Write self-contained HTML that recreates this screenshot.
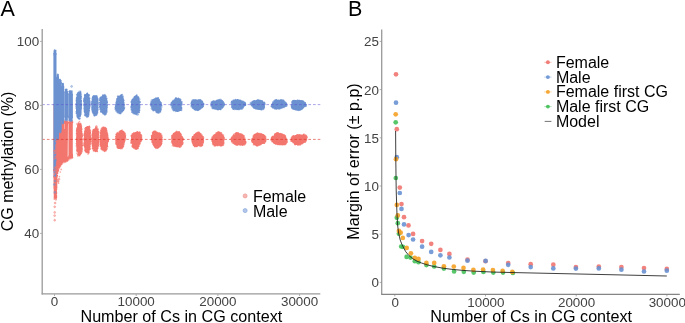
<!DOCTYPE html>
<html><head><meta charset="utf-8"><title>Figure</title>
<style>html,body{margin:0;padding:0;background:#fff;}body{width:685px;height:323px;overflow:hidden;font-family:"Liberation Sans",sans-serif;}svg{display:block;will-change:transform;}</style></head>
<body>
<svg width="685" height="323" viewBox="0 0 685 323" font-family="'Liberation Sans', sans-serif">
<rect width="685" height="323" fill="#fff"/>
<g fill="none" stroke-linecap="round" stroke-width="1.70">
<path d="M53.5,103.8h3.8V188.5h-3.8ZM57.0,122.3H64.25V129H64.6V122.3H68.0L67.7,158.6L66.0,159.2L64.4,159.8L62.3,160.9L60.5,163.2L59.0,166.2L58.0,169.5L57.0,175.0ZM68.45,122.3H72.8L72.8,155.2L71.6,155.6L70.0,156.4L68.2,157.6L68.45,157.4ZM82.2,139.4L82.2,142.5L82.1,145.9L81.8,149.0L81.3,151.1L80.6,152.2L80.0,152.9L79.3,153.6L78.6,154.1L77.9,153.5L77.3,151.5L76.9,148.5L76.6,145.4L76.5,142.4L76.5,139.4L76.5,136.3L76.6,133.1L76.9,129.8L77.2,126.6L77.8,124.3L78.6,123.5L79.3,124.1L80.0,125.1L80.6,126.2L81.2,127.5L81.7,129.8L82.0,132.9L82.1,136.2ZM90.5,139.4L90.4,142.2L90.1,144.9L89.8,147.4L89.3,149.6L88.7,151.2L88.0,151.9L87.3,151.7L86.6,151.1L86.0,150.4L85.3,149.5L84.7,147.8L84.3,145.3L84.1,142.3L84.1,139.4L84.1,136.6L84.3,133.7L84.6,131.2L85.3,129.6L86.0,129.1L86.7,129.0L87.3,128.5L88.0,127.8L88.7,127.7L89.5,128.9L90.0,131.1L90.3,133.8L90.4,136.6ZM98.7,139.4L98.6,141.8L98.4,144.1L98.1,146.5L97.7,148.7L97.0,149.9L96.2,150.1L95.5,149.7L94.8,149.5L94.1,149.4L93.3,148.7L92.7,147.0L92.4,144.5L92.2,141.9L92.2,139.4L92.2,136.8L92.4,134.2L92.9,132.1L93.5,130.9L94.2,130.1L94.8,129.4L95.5,128.6L96.2,128.2L97.0,128.6L97.7,129.8L98.3,131.7L98.7,134.1L98.8,136.8ZM107.9,139.4L108.0,141.7L107.7,143.9L107.3,146.0L106.7,147.8L105.9,149.0L105.0,149.4L104.1,149.3L103.2,149.1L102.4,148.7L101.5,147.9L100.8,146.3L100.5,143.9L100.5,141.5L100.6,139.4L100.6,137.3L100.6,135.0L100.8,132.6L101.4,130.6L102.3,129.5L103.2,129.1L104.1,128.9L105.0,129.0L105.9,129.9L106.5,131.4L107.0,133.3L107.4,135.3L107.7,137.2ZM125.0,139.4L124.4,141.0L123.9,142.3L123.5,143.6L123.1,145.3L122.5,146.7L121.5,147.4L120.5,147.4L119.5,147.3L118.5,147.0L117.5,146.2L116.8,144.7L116.5,142.8L116.4,141.1L116.3,139.4L116.1,137.6L116.3,135.8L116.9,134.4L117.9,133.7L118.8,133.3L119.6,132.7L120.5,132.0L121.5,131.6L122.6,131.9L123.5,132.8L124.3,134.1L125.0,135.6L125.2,137.5ZM141.1,139.4L140.7,141.1L140.0,142.4L139.4,143.5L138.9,144.9L138.2,146.4L137.3,147.5L136.2,147.8L135.1,147.4L134.0,146.8L133.0,146.0L132.2,144.7L131.7,143.0L131.6,141.1L131.7,139.4L131.7,137.9L131.8,136.3L132.3,134.9L133.2,134.0L134.3,133.7L135.3,133.6L136.2,133.2L137.3,132.7L138.5,132.6L139.5,133.4L140.3,134.7L140.9,136.2L141.2,137.8ZM161.6,139.4L161.7,141.0L161.6,142.7L160.9,144.1L160.0,145.1L159.0,145.9L158.0,146.7L156.8,147.2L155.6,147.1L154.6,146.1L153.9,144.6L153.4,143.3L152.8,142.1L152.2,140.9L151.9,139.4L151.9,137.9L152.0,136.3L152.4,134.6L153.2,133.1L154.3,132.3L155.6,132.4L156.8,133.1L157.8,133.6L158.8,133.8L159.9,134.1L160.8,135.0L161.4,136.4L161.5,137.9ZM182.6,139.4L182.6,140.9L182.3,142.4L181.8,143.8L181.0,145.2L179.9,146.0L178.6,146.2L177.3,145.9L176.2,145.6L174.9,145.4L173.7,145.0L172.7,143.9L172.3,142.3L172.4,140.8L172.5,139.4L172.5,138.1L172.5,136.7L172.9,135.4L173.8,134.3L174.8,133.5L176.0,132.7L177.3,132.3L178.7,132.5L179.8,133.5L180.5,134.8L181.0,136.0L181.6,137.0L182.2,138.1ZM202.8,139.4L202.7,140.7L202.6,142.1L202.3,143.6L201.5,144.8L200.2,145.4L198.9,145.4L197.7,145.4L196.5,145.6L195.1,145.7L193.8,145.0L193.0,143.7L192.7,142.2L192.7,140.7L192.6,139.4L192.7,138.3L193.1,137.2L193.7,136.2L194.4,135.2L195.2,134.2L196.3,133.3L197.7,132.9L199.1,133.3L200.2,134.2L201.1,135.2L201.8,136.1L202.5,137.1L202.8,138.2ZM223.3,139.4L223.2,140.6L223.2,141.8L223.1,143.3L222.3,144.6L221.0,145.2L219.5,145.2L218.2,145.1L216.9,145.1L215.5,145.0L214.2,144.4L213.3,143.3L212.9,142.0L212.6,140.7L212.5,139.4L212.6,138.2L213.2,137.0L214.1,136.2L214.9,135.3L215.7,134.4L216.8,133.4L218.2,132.8L219.7,133.0L221.0,133.7L222.0,134.7L222.8,135.8L223.4,137.0L223.5,138.2ZM244.3,139.4L244.7,140.7L244.9,142.2L244.3,143.6L242.9,144.4L241.2,144.6L239.8,144.5L238.5,144.4L237.2,144.4L236.0,144.2L234.9,143.5L233.9,142.7L233.0,141.8L232.2,140.7L231.9,139.4L232.2,138.1L233.0,137.0L233.8,136.0L234.6,135.0L235.6,134.0L237.0,133.5L238.5,133.6L239.8,134.1L241.0,134.7L242.1,135.3L243.1,136.1L243.7,137.1L244.0,138.3ZM264.8,139.4L264.9,140.5L264.6,141.7L263.8,142.6L262.5,143.2L261.2,143.6L260.0,144.1L258.7,144.7L257.1,145.0L255.4,144.8L254.2,143.9L253.3,142.8L252.8,141.7L252.6,140.5L252.7,139.4L253.2,138.4L253.7,137.4L254.1,136.4L254.6,135.2L255.6,134.2L257.1,133.7L258.7,133.9L260.1,134.3L261.5,134.7L262.9,135.2L264.0,136.0L264.6,137.1L264.8,138.3ZM285.6,139.4L286.0,140.5L286.2,141.9L285.6,143.2L284.2,144.0L282.4,144.2L280.7,144.0L279.3,144.0L277.9,143.9L276.6,143.7L275.4,143.1L274.3,142.4L273.3,141.6L272.3,140.6L271.9,139.4L272.2,138.1L273.1,137.0L274.1,136.0L275.1,135.1L276.2,134.2L277.7,133.7L279.3,133.8L280.8,134.2L282.1,134.7L283.3,135.3L284.4,136.1L285.1,137.1L285.3,138.3ZM305.5,139.4L305.3,140.3L304.8,141.2L303.9,142.0L302.9,142.6L301.8,143.3L300.5,144.0L298.9,144.5L297.1,144.4L295.6,143.9L294.4,143.0L293.4,142.2L292.5,141.4L291.9,140.4L291.9,139.4L292.3,138.4L292.8,137.5L293.4,136.6L294.4,135.8L295.8,135.3L297.4,135.2L298.9,135.2L300.4,135.1L302.2,135.0L304.1,135.2L305.4,136.1L305.9,137.2L305.7,138.4Z" fill="#f3766e" stroke="none"/>
<path d="M55,189.5h0m0.7,-1.2h0m-0.2,4.2h0m-1,1.8h0m-0.1,-0.9h0m0.1,-4.8h0m0.7,9.3h0m-0.6,-7.3h0m1,2.3h0m0.8,-5.1h0m-0.2,3.7h0m-1.5,-2.5h0m0.3,8.8h0m-0.3,-2.7h0m1,-2.5h0m-0.2,-4.5h0m-1,2.3h0m1.3,2.9h0m-0.8,1.9h0m0.3,-3.6h0m0.7,4.9h0m-1.1,-1.4h0m1,-3.6h0m0.5,-2.5h0m-1.2,8.1h0m-0.5,-3.1h0m-0.3,2.1h0m1.6,-1.1h0m0.2,-3.2h0m-0.4,3.5h0m-0.2,-1.7h0m-0.3,2.5h0m-0.8,0.4h0m1.6,-5.1h0m-0.9,4.7h0m-0.8,-2.4h0m0.3,-4.7h0m-0.2,8.3h0m0.1,-6.4h0m-0.1,2.7h0m0.4,-0.5h0m1.5,-3.6h0m-1.7,1.2h0m0.1,3.3h0m0.8,-2.9h0m-1.2,2.1h0m0.7,1.8h0m1.3,1.4h0m-1,-0.8h0m0.4,-7.7h0m0.4,9.5h0m0,0.2h0m-1,-4.7h0m-0.6,2.9h0m-0.1,-7.6h0m0.3,1.5h0m0.3,-1.8h0m-0.7,1.6h0m0.2,3h0m1,-3h0m-0.7,2.8h0m0.2,-3.2h0m0.2,4.9h0m-0.8,-5.2h0m0.6,2.4h0m1,-1.5h0m-0.6,-0.2h0m0,-2.1h0m0.7,9.1h0m-1.3,-4h0m-0.2,4.8h0m0.8,0.1h0m-0.5,-6.8h0m1.1,7.1h0m0,-0.8h0m-1.3,-2.5h0m0.3,-7h0m-0.7,4h0m0.5,5h0m1.5,-2.9h0m0,-1h0m-1.6,-1.9h0m0,-0.3h0m1.3,3.6h0m-0.4,3.7h0m-1.2,-1.5h0m1.8,1.3h0m-0.4,-3.5h0m-1.2,3.6h0m0.3,0.1h0m1.4,-4.7h0m-0.5,-3.1h0m-1.3,-0.3h0m1.7,8.2h0m-1.6,0.2h0m1.7,-1.9h0m-1.3,-1.2h0m-0.5,-7.7h0m1.8,8.8h0m-0.3,-5.5h0m-1.2,1.2h0m0,3.6h0m6.3,-32.4h0m1.4,-1.4h0m2.3,-0.8h0m0.4,-2.4h0m-1.3,1.3h0m-6.7,16.1h0m2.6,-10.4h0m5.9,-5.8h0m-0.6,1.2h0m4.1,-4.6h0m-3.5,3h0m-4.3,4.9h0m3.5,-3.3h0m-1,0.7h0m1,-0.8h0m2.9,-1.6h0m-2.5,1.3h0m6.3,-3h0m-10.5,6.2h0m-1.9,1.4h0m4.7,-5.8h0m-3.1,2.7h0m6.6,-1.1h0m3.5,-5.4h0m-3.6,2.8h0m-4.1,3.1h0m-3.6,4.3h0m5.4,-5.7h0m-4.9,4.1h0m-2.7,9.5h0m6.5,-14.6h0m-1.7,3.5h0m2.8,-3.7h0m7.3,-1.2h0m-0.2,-2.8h0m-10.9,6.5h0m7.9,-4.2h0m-10,9.5h0m2,-4.6h0m10.2,-4.9h0m-12.8,9.7h0m9.2,-7.6h0m-3.6,1.2h0m-2.9,1.3h0m4,-2.2h0m-6.4,6.8h0m-0.9,3.2h0m4,-7.9h0m6.9,-4.2h0m-4,2h0m-2.4,0.4h0m-1.4,1.7h0m4.6,-2.4h0m-1.8,2.1h0m6.2,-4.1h0m-5.1,4.3h0m7.3,-5.6h0m-2.3,2.5h0m-3,1.3h0m-4.4,0.3h0m-3.4,5.2h0m9.4,-7.7h0m-8.9,6.7h0m7.8,-5.2h0m-6.6,4h0m3.4,-3.4h0m-0.2,0.6h0m1.5,-0.7h0m6.5,-3.6h0m-9.4,3.8h0m0.4,1.9h0m1.8,-2h0m0.1,-1h0m-3.7,3.1h0m2.1,-2.1h0m-5.9,12.8h0m3.3,-8h0m4.5,-2.7h0m2,-0.9h0m3.4,-4h0m-11.2,10.5h0m7.6,-9.3h0m-0.2,3.1h0m2.8,-4.8h0m-4.4,4.4h0m4.6,-2.7h0m1,-0.1h0m-3,0.4h0m-10.2,12.6h0m5.1,-10.7h0m7.3,-2.4h0m-3.2,2.8h0m0.8,-0.8h0m-10.4,16.2h0m11.4,-17.5h0m-3.3,2.8h0m-7.2,9.6h0m2.9,-9.1h0m0.2,2.5h0m-0.9,1.4h0m11.8,-9.1h0m-9.1,5h0m4.6,-0.8h0m-1,-0.1h0m-8.3,7.2h0m2.7,-3.3h0m0.8,-1.7h0m-4.5,9.3h0m3.9,-8.2h0m6.6,-3.8h0m-6.2,2.8h0m2.7,-2.1h0m7.2,-6.2h0m0.5,1.8h0m-10.8,5.6h0m10.5,-6.5h0m-5.6,3.2h0m2.7,-35.8h0m2.3,-0.7h0m-10.7,1.3h0m5.7,-1.2h0m-2.3,0.8h0m0.5,-0.5h0m6.1,0.9h0m-6.7,-1h0m3.6,0h0m-1.9,0.2h0m-4.7,0.5h0m9.7,-0.5h0m1.2,0.1h0m-8.2,-0.6h0m-1,0.3h0m7.7,-0.6h0m-3.2,-0.2h0m-6.2,0h0m4.9,-0.1h0m-2,1.7h0m7.9,-0.2h0m-5.6,-0.5h0m-2.1,-0.9h0m8.3,1.1h0m-8.3,-0.7h0m1.2,0.9h0m-2.9,-0.1h0m9.1,-0.7h0m1.2,0.1h0m-10.6,0.7h0m-0.6,-0.4h0m0,0.2h0m2.1,-0.7h0m7.7,-0.5h0m-5.8,0.8h0m1.3,0.1h0m-2.2,0.8h0m-2.7,-1.1h0m9.1,0.7h0m-7.3,-0.1h0m1.6,-0.5h0m5.8,1.1h0m-10.3,-1.7h0m10.6,0.6h0m-3.8,1.2h0m4.8,-0.7h0m-10.7,0.3h0m5.1,-1.3h0m5.2,-0.1h0m-2.2,0.6h0m-2.6,1.1h0m2.8,-0.5h0m1.7,-1h0m-7.6,1.2h0m-0.6,-1.2h0m18.3,12h0m-4.6,-4.5h0m0,13h0m2.2,13h0m0.8,-29.7h0m2,23h0m-2.4,-22.7h0m1.8,3.4h0m-4.6,12.3h0m3.4,10h0m0.3,1.9h0m-3.1,-1.9h0m-0.3,-3.6h0m3.7,2.4h0m0.9,-11h0m0,10.2h0m-1.8,-23.1h0m-2.7,4.8h0m-0.1,6.8h0m4,-9.9h0m-4,5.9h0m2.7,-8.7h0m2.2,8.9h0m-2.8,18.2h0m0.8,-0.7h0m1.5,-5.3h0m-4.9,-12.7h0m4.8,-1.6h0m-4.3,-1.1h0m2.1,23.3h0m-1.3,-29.1h0m-0.8,18.3h0m2.6,8.3h0m-0.5,1.5h0m1.4,-25.3h0m-0.7,-3.9h0m1.7,20h0m-3.6,-18.9h0m-1.2,5.3h0m4.7,18h0m-2.3,4.1h0m-2.2,-11.7h0m2.5,11.4h0m-1.4,-26.5h0m0.7,-1h0m2.3,26.2h0m-0.3,-24.7h0m-3.8,17h0m3.5,-17h0m-3,2.6h0m2.2,22.9h0m-1.1,-28.6h0m2.7,29.9h0m-2.3,0.6h0m1.8,-2.7h0m-0.1,-23.6h0m-0.1,24.7h0m-2.7,-26.2h0m-0.9,15.4h0m2.2,11.5h0m2.3,-4.9h0m-0.2,-16.9h0m-2.4,-6.4h0m2.6,13.2h0m-1.3,-11.4h0m0.7,23.6h0m-0.3,-23.6h0m-0.3,25.8h0m1.2,-20.2h0m-4.3,1.8h0m3.4,19.9h0m-1.9,-28.9h0m2.9,21.3h0m-4.5,-16.4h0m1.8,23.4h0m-1.9,-24.6h0m3.3,-3h0m-0.3,26h0m-1,-27.3h0m-0.2,1h0m1.4,1.3h0m0.8,-1.4h0m-3.9,14.9h0m4.5,-8.7h0m-0.5,-2.2h0m-0.6,25.1h0m-3,-4.3h0m-0.2,1h0m4.5,-11h0m-4.9,4.2h0m4.7,6.9h0m-1.1,-26.9h0m-2.6,30.7h0m-0.9,-4.1h0m5.2,-4.9h0m-0.4,-10.4h0m-5,2.9h0m0.3,-1.7h0m4.5,0.2h0m-1.3,14.4h0m-1,4.3h0m2.3,-13.6h0m-3.2,-17h0m3.5,16.2h0m-4.9,-8.4h0m1.5,-7.6h0m2.8,2.2h0m0.3,15.8h0m-4.8,-3.1h0m2,12.9h0m-1.5,-6.1h0m-0.6,-16.7h0m4.3,21.7h0m-1.8,-26.4h0m-2,23.4h0m3.5,-22.1h0m-1,-1.1h0m-0.2,27.3h0m1,-28.7h0m1.4,20.1h0m-2.6,9.1h0m-1.9,-25.5h0m-0.3,9.2h0m-0.2,8h0m4.7,-4h0m0.5,-4.6h0m-0.2,-3h0m-0.7,-3.3h0m-3.6,-2.7h0m0.5,-2.3h0m-0.7,4h0m-0.5,8.6h0m4.7,-2.5h0m-3.4,19.6h0m3.3,-4.4h0m0.3,-15h0m-2.8,18.5h0m-1.9,-17.2h0m4.1,12.6h0m-2.7,4.5h0m0.2,-0.6h0m3.1,-5.6h0m-1,-21.4h0m8.2,1.7h0m-2.2,1.8h0m-2.5,15.5h0m1.5,3.5h0m3.2,-21.9h0m-2.2,23h0m2.5,-21.5h0m0.5,14.6h0m-0.1,5.6h0m-2.4,-18.9h0m-0.8,-0.1h0m0.8,-2.3h0m-0.5,22.8h0m3.2,-14.7h0m0.2,-1.7h0m-3.1,-6.2h0m-1.9,2.8h0m5,13.7h0m-5.6,1.5h0m5.1,-11.1h0m-2.2,-4.9h0m-1,-1.5h0m0.6,23.8h0m3.2,-14.8h0m-5.6,-0.7h0m5.1,7.6h0m-4.9,2.2h0m1.5,3.6h0m0.2,-21.2h0m0.9,22.5h0m-3,-12.7h0m5.4,-3.6h0m-0.7,15.1h0m-3.4,1.7h0m-1.6,-16.2h0m4.6,16.4h0m-4,-19.8h0m2.8,-5h0m1.7,20.5h0m-3.7,1.3h0m4.2,-4.8h0m-1.5,8.8h0m-3.6,-9.3h0m1.4,6.9h0m-0.5,-1.8h0m4,-4h0m0.8,-5.7h0m-0.5,7.6h0m0.3,-8.5h0m-0.7,9.6h0m-4.7,-3h0m0,-8h0m5.3,-3.6h0m-4.3,-2.7h0m1.6,20.5h0m3,-8.8h0m-1.5,-13h0m-0.4,23.2h0m0.4,0.1h0m0,-25.3h0m-2.8,22.6h0m2.5,-21h0m-3.3,20.8h0m-0.3,1.1h0m2.5,0.3h0m-3.1,-16.8h0m4.3,-7h0m-4.3,13.1h0m4.4,9.8h0m-3.9,-16.1h0m1.5,-3.6h0m3,15.5h0m-4.7,-1.5h0m2.2,-14h0m2.3,-3.4h0m-1.3,1.5h0m-1.2,23.7h0m-2.2,-13.5h0m1.4,11.5h0m-0.1,-21.9h0m3.8,4.7h0m-3,18h0m-2,-16h0m3.6,15.9h0m-2.1,-0.3h0m4.1,-13.9h0m-1.9,-7.5h0m-2.2,0h0m0.4,22.3h0m3.6,-15.3h0m-4.4,-5.7h0m4.2,11.3h0m-3.7,-12.1h0m3.7,16.9h0m-4.7,3h0m-0.6,-2.9h0m0,-11.9h0m4.7,12.7h0m0.4,-16.4h0m0.1,18.2h0m-2.6,1.5h0m-2.6,-13.2h0m-0.2,3.1h0m3.3,11.9h0m1.8,-4.4h0m-4.6,-14.7h0m0.1,13h0m-0.9,-1h0m0.2,-10h0m3.1,-5.6h0m3,9.1h0m-0.5,9.4h0m-4.8,-0.8h0m5.1,-11h0m-2.5,-7.1h0m0,0.1h0m-0.2,22.2h0m2.7,-10.7h0m-2.3,10.5h0m-1.2,-21.9h0m3.1,1.1h0m-0.3,-0.9h0m0.8,2.5h0m-1.4,19.9h0m-3.3,-0.9h0m0.4,-23.1h0m3.3,20.1h0m-2.4,-18h0m-1.8,2.1h0m-1,3h0m2.1,-5.2h0m2.1,21.5h0m0.7,-23.6h0m0.2,19.1h0m0.5,1.6h0m-1.2,3.2h0m-1.9,0h0m-1.3,-4h0m4.3,-17.9h0m-3.4,-1.9h0m3.6,7.9h0m-3.9,13.2h0m-1.9,-9.8h0m4.1,-10.3h0m0.6,23.9h0m-2.5,-23.3h0m-1.5,11.7h0m4.3,-12.5h0m0.6,0.7h0m0.1,15.5h0m-4.7,-11.8h0m3.7,17.3h0m-4.3,-8.3h0m0.7,5.7h0m5.1,-7.9h0m-4.1,9.1h0m3.7,-6.3h0m-3.7,-12.9h0m6.2,7.6h0m2.1,-6.7h0m-1,0.5h0m2.6,19.2h0m-3.7,-9h0m0.2,-3.6h0m3.5,11.2h0m2.4,-15h0m-6,3.6h0m4.2,-8.4h0m0.5,21.8h0m-4.7,-8.7h0m5.1,-11.1h0m-4.7,17.5h0m3.9,-19.2h0m0.5,19h0m0.6,-2.6h0m-1.3,-17.7h0m-3.6,14.2h0m1.7,-12.4h0m-2.4,11.1h0m3.4,-11.6h0m-1.2,1h0m-1.7,7.5h0m0.7,9.7h0m0,-0.9h0m3,3.5h0m1.5,-7.4h0m-2.9,-12.9h0m-0.7,18.6h0m2.7,-18.7h0m-3.7,0h0m3.1,19.9h0m-0.1,-22h0m-2.8,19.4h0m-0.8,-3.9h0m2.2,-13.2h0m-2.2,16.2h0m3.9,-17.4h0m-3.6,18.7h0m5.1,-13.3h0m0.6,2.9h0m-5.6,11.4h0m1.1,-0.3h0m1.4,-19.3h0m-3.1,8.5h0m5.9,-6h0m0,9.6h0m-5.8,0.9h0m4.6,-12.6h0m-4.6,14.3h0m-0.5,-5.3h0m2,-8.9h0m-1,16.2h0m1.2,-15.7h0m1.6,-2.8h0m1.7,19.4h0m0.8,-1.5h0m-0.7,0.4h0m-2.1,-17.1h0m2.7,14.8h0m-3.4,-13.6h0m3.4,13.6h0m-5.7,2.2h0m6.2,-6.1h0m-1.2,-8h0m-3.6,17.9h0m1.1,-0.4h0m-0.6,-0.1h0m3.1,-19h0m-5.1,8.9h0m5.5,3.9h0m-0.1,-13.3h0m-0.5,1.2h0m-1.1,18.6h0m-3.7,-12.2h0m0,5.1h0m0.3,-8.3h0m3.5,-4.4h0m2,4.2h0m-0.4,9.2h0m-5.4,-5.6h0m0.1,-2.1h0m2.4,15.7h0m-0.4,-0.4h0m1.8,-22.3h0m-4.3,16h0m5.9,-0.8h0m-4.3,-11.2h0m3.6,-1h0m-4.2,2.3h0m5.2,0.4h0m-1.9,-5.3h0m-2.3,1.4h0m0.6,19h0m2.2,-18.7h0m1.1,3.8h0m-0.4,11.6h0m-5.1,0.5h0m1.9,-15h0m3.8,12.5h0m0.3,-0.9h0m-3.8,6.2h0m-1.9,-14.9h0m-0.1,1.5h0m5.3,-2h0m-1,-3.3h0m-3.9,16.3h0m-0.2,1.8h0m3,2h0m1.9,-4.6h0m-2.8,-16.1h0m-0.7,1.6h0m2.5,-1.3h0m1.6,5.2h0m-3.7,14.1h0m0.7,-20.3h0m2.6,6h0m-6,5.9h0m0.8,-8.1h0m4.9,12.2h0m-0.6,-14.7h0m0.9,4.4h0m-4,-2.9h0m-0.1,17.5h0m1.5,1.6h0m1.5,0.4h0m-2.3,-2.6h0m-1.9,-12.9h0m-0.6,-0.3h0m0.8,-2.4h0m5.3,8.8h0m-0.2,4.5h0m-0.4,2.2h0m-4,0.1h0m0.5,-17.1h0m-0.4,19.2h0m4,-19.9h0m-0.6,17.4h0m0.4,-16.3h0m-5.1,8h0m5.3,7.4h0m-0.7,2.5h0m-4.5,-10.7h0m3.8,10.8h0m-0.1,-0.6h0m-0.6,2.2h0m-3.5,-11h0m0.2,-6.4h0m3.5,17h0m1.3,-2.4h0m1,-7.1h0m-5.6,-3.2h0m5.2,-5.9h0m-4.9,1.8h0m-0.2,-2.1h0m2.2,-1.5h0m6.6,1.2h0m0.7,17h0m2.7,1.8h0m0.3,0.1h0m0.3,-21.2h0m2.5,12.1h0m-0.3,-0.3h0m-6.6,2.5h0m0.1,-13.1h0m-0.2,3.7h0m-0.1,4.4h0m3.8,12.1h0m3.3,-11.7h0m-0.8,-1.9h0m0,1.4h0m-6,1.9h0m-0.6,1.8h0m2.5,-13h0m-0.9,18.3h0m-1.1,-2.4h0m4.4,4.9h0m-4.5,-11.6h0m4.4,11.5h0m-0.2,-1.4h0m-4.5,-13.1h0m7.1,2.1h0m-4.4,-9.3h0m3.9,14.8h0m0.9,-2.8h0m-4.8,-11.7h0m0.4,20.1h0m2.4,0.2h0m1.2,-10h0m-0.1,3.1h0m-2,-12.4h0m1.5,15.5h0m-0.3,4h0m0.8,-15.3h0m-6.8,7.1h0m6,5.4h0m-5.6,-10.7h0m4.1,13.1h0m2.5,-10.5h0m-3.8,-8.8h0m2,-1.1h0m0.7,18.2h0m-1.5,3.1h0m-3.4,-3.4h0m4.6,-16.9h0m-4.9,12h0m5.6,-8.2h0m0.5,10.5h0m-6.5,-3.3h0m4.2,8.3h0m1.8,-14.3h0m0.4,11.7h0m-0.6,0.4h0m-5.9,-4.3h0m0.6,-11.8h0m-0.2,12.4h0m2.5,-12.6h0m-2.6,10.9h0m1.1,-12.1h0m2.2,20.9h0m-1.5,-20.3h0m-1.5,4.2h0m3.3,15.3h0m0.5,-21.1h0m-3.9,2.4h0m6.1,11.3h0m0.6,-3.8h0m-0.6,3.8h0m-2.5,8.4h0m2.5,-14.8h0m-0.5,-0.1h0m-0.7,12.2h0m-1.8,-17.3h0m3.5,7.6h0m-2.1,12.6h0m0.4,-1.7h0m1.3,-1.9h0m0.7,-7h0m-7.6,-3.9h0m0.3,3.6h0m-0.2,-6.5h0m6.5,11h0m-6,-6.9h0m0.2,8.4h0m2.7,-15.3h0m2.1,-0.9h0m-5,12.6h0m0.8,-10.6h0m-0.8,12.3h0m6.5,-5.5h0m-5.6,9.3h0m1.6,-19.6h0m2.4,4.2h0m-4.4,15.2h0m2.8,-17.1h0m0.1,0.2h0m2.6,13.6h0m-4.4,-14.7h0m-1.7,9.3h0m-0.3,7.2h0m3,-17.6h0m3.7,5.9h0m-4,-3.6h0m-1.1,-2h0m-2,16.2h0m0.2,-1.2h0m3.5,5.4h0m-2,-0.9h0m5.2,-2.5h0m0.5,-7h0m-0.2,-3.1h0m-3.3,-5.5h0m-0.1,19.4h0m3.3,-8.4h0m-5.2,8.9h0m3,-20.4h0m2.3,17.6h0m-4.9,2.4h0m-1.2,-1.5h0m5.8,-10.1h0m-6.4,0.1h0m6.2,7h0m0.4,-4.4h0m-1.6,8.5h0m-3.3,-19.9h0m1.5,-0.8h0m0.1,20.6h0m3.8,-7.3h0m-2.9,7.4h0m2.6,-11.5h0m-6.8,-3.8h0m0,-0.6h0m2.2,15.1h0m4.1,-4.7h0m-5.3,3.8h0m5.2,-0.7h0m0.7,-8.9h0m-4.2,12.6h0m2.1,-2h0m-2.6,0.6h0m-0.3,-19h0m0.9,0.4h0m3.4,5.7h0m-1.3,-4.4h0m0,-0.4h0m0.9,-0.5h0m-4.2,0h0m5,9.6h0m-0.7,-5.5h0m-4.8,-4.7h0m0.3,1h0m4,16.2h0m1.2,-8.6h0m-5.6,-8.3h0m2.8,18.3h0m3.6,-7.9h0m-6.9,7.8h0m18.4,-15.5h0m1.4,-0.2h0m2.4,9.4h0m-6.6,-1.9h0m1.9,-6.1h0m-0.1,12.8h0m0.9,-14.5h0m-2.2,13.1h0m0.3,-10.7h0m-1.2,6.8h0m3.3,4.9h0m3.3,-2h0m-5.5,-9.9h0m6.3,7.8h0m-2.9,-10.2h0m2.4,10.5h0m0.3,-1.2h0m-2.8,-8.8h0m2.1,10.5h0m-0.3,3h0m-0.1,-13.2h0m0,14.2h0m-5.7,-4.4h0m6.1,1.2h0m1.5,-5.8h0m-4.3,9.9h0m-2.9,-13.1h0m-0.9,6.2h0m3.8,-8h0m3.4,10.9h0m-5.3,2h0m2.1,1.2h0m4,-8.2h0m-1.3,-5.8h0m-0.4,13.8h0m-4.5,-1.1h0m-1.9,-2.1h0m7.2,-10.8h0m1.4,6.9h0m-0.2,-2.9h0m-1.3,-5.1h0m-3.3,15h0m-2.7,-1.8h0m0.1,-0.4h0m-0.8,-0.8h0m7.6,-10.5h0m-4.4,-1.4h0m2.2,0.5h0m-3.6,1.4h0m4.2,-0.8h0m-6.1,4.5h0m5.7,-5.2h0m1.1,-0.8h0m0.1,2.6h0m1.7,1.7h0m-6.4,-2.8h0m5.6,8.6h0m-8,-4.6h0m1.4,10.2h0m3.7,-16.6h0m-0.1,16.2h0m-0.9,-0.4h0m-1.9,-0.5h0m3.1,-13.6h0m1.6,9.5h0m-3,-9h0m-3.5,8.2h0m2,6.2h0m5.3,-13h0m0.5,-0.3h0m-6,14.1h0m-1.7,-11.9h0m-0.6,-1.5h0m0.2,3.8h0m2.3,-4.5h0m-1.1,11.6h0m7.6,-8.5h0m-1,3.9h0m-7.9,1.8h0m0.7,-0.4h0m-1.2,-4.3h0m5.6,-6h0m-0.2,15.9h0m0.5,-15.6h0m-4.9,10h0m4.8,4.3h0m-3.5,0.7h0m4,-0.5h0m-5.9,-7.5h0m8.5,0h0m-3.2,-7h0m2.9,2.4h0m-3.7,-3.8h0m0.7,15.4h0m-4.7,-9.7h0m0.6,-3.3h0m-0.8,9.7h0m3.7,3.7h0m-3.5,-3.6h0m0.2,-2.5h0m7.4,-1h0m-4.7,-7.5h0m1.1,14.6h0m-4,-8.1h0m5,8.6h0m-2,-15.2h0m-0.2,0.3h0m0.2,15.8h0m4.5,-12.3h0m0.5,0.6h0m-1.6,5.9h0m-1.4,-11.1h0m1.1,13.7h0m-5,2.3h0m2.7,-0.6h0m2,-1h0m-5,-11.2h0m4.9,11h0m0.7,-3.1h0m-4.5,4.5h0m3.5,-0.3h0m-5.2,-6h0m0.1,-5.2h0m5.2,10.2h0m-5.2,-1.7h0m-0.2,-1.1h0m2.3,-9.3h0m4,12.9h0m-6.3,-10.2h0m6.5,-4h0m-5.8,14.2h0m6.9,-11h0m-7.5,7h0m-0.9,-5.8h0m6.7,8.4h0m0.7,-13h0m-7,2.8h0m0,2.3h0m5.6,8.9h0m2.5,-12.3h0m-0.5,6.8h0m-7.5,-0.2h0m1.2,6h0m7.2,-10.8h0m-8.2,4.9h0m0.2,4.7h0m4.4,-12.8h0m-3.9,13.1h0m-0.9,-7.8h0m1.4,10h0m4.9,-1.3h0m1.2,-6h0m0,1.8h0m-1.4,2.8h0m0.9,-3.3h0m-3.5,-9.7h0m-3.1,10.3h0m3.4,-11h0m-3,13.2h0m6.6,-11.5h0m10.2,1h0m3.6,-0.8h0m3.4,3h0m-8.9,4.4h0m0.1,-0.4h0m2.1,-6.6h0m6.1,8.1h0m-3,-8.2h0m-3.2,12.5h0m-2.6,-10.3h0m1.5,11h0m-0.6,-0.6h0m-0.3,-3.9h0m7.2,1.1h0m0.1,-9.7h0m-0.8,12.6h0m-3.4,-11.8h0m-3.1,11.1h0m8,-5.8h0m-7.5,7.3h0m7.7,-7.7h0m0.2,-4.2h0m-1.1,-1.4h0m1.5,4.4h0m-0.3,-1h0m-3.2,10h0m-5.5,-6.9h0m0.6,5.3h0m-0.3,-9.4h0m2.9,11.4h0m-3.3,-8.1h0m2.1,-4.9h0m-2,3.8h0m4.6,-5.6h0m0.3,0.3h0m-4.9,6.1h0m2.9,8h0m0,-13.9h0m-3.5,7.2h0m5.7,6.9h0m-3.9,-1.7h0m-0.5,0.9h0m2.9,-12.3h0m0.9,14.4h0m-3.1,-14.8h0m-0.7,0.2h0m2.7,12.8h0m-2.2,-1.6h0m7.6,-7.4h0m-3.3,-4.5h0m-3.7,12.5h0m3.6,-13.5h0m-5.5,7.7h0m3.5,7.6h0m4,-15.1h0m-7.6,9.9h0m5.9,3.6h0m1.2,-12.2h0m-6.8,9h0m4.5,-9.4h0m-4.8,8.9h0m0.5,-6.5h0m8,4.6h0m-7.5,4.2h0m-0.5,1.5h0m1.2,0.9h0m-0.6,-12h0m7.8,5.5h0m-8.1,-5.3h0m5,13h0m2.3,-12.4h0m-8.1,0h0m2.4,10.2h0m-0.5,1h0m-1.5,-11.7h0m6.3,8.4h0m-4.2,3.1h0m2,2.1h0m-0.1,-0.9h0m-3.3,-3.3h0m4.6,-12.6h0m-2.1,16.4h0m4.3,-6.7h0m-3,6.3h0m0.2,-15.9h0m-5,5.4h0m5.4,-4.1h0m-1.6,15h0m3.4,-5.6h0m-2.1,3.7h0m1.8,-3.9h0m-6,2.8h0m-0.7,-6.3h0m2.7,-5.3h0m5.5,4.9h0m-8.5,0.3h0m0.4,7.2h0m5.2,2.3h0m-4.3,-3h0m-0.8,-10.9h0m2.8,12h0m5.4,-9.1h0m-1.5,6.4h0m-7,-5.7h0m1.5,9.3h0m0.1,-1.4h0m6.9,-8.5h0m-8.1,6.2h0m1.2,-10.2h0m-1.8,8.3h0m4.8,6.7h0m-5.4,-6.9h0m1.1,4.1h0m7.7,-5.1h0m1,-3.2h0m-6.9,-3.6h0m-2,6.7h0m6,5.8h0m-3.4,-12.1h0m-1.2,0.3h0m-0.8,0.6h0m-0.7,3.8h0m0.1,-1.5h0m-0.5,2.7h0m6.8,3.9h0m-4.2,-10.3h0m-2.1,0.4h0m0,2.4h0m-0.9,5.9h0m0.2,-6.1h0m1.5,9.1h0m8.4,-7.6h0m-7.6,-3.4h0m-1,0.8h0m2.8,-1.2h0m3.1,-0.4h0m-0.2,-0.9h0m-7.2,9.9h0m3.3,-8.9h0m4.5,0.3h0m0.8,1.1h0m0.4,5.4h0m-0.9,1.3h0m-6.3,-7h0m5.1,10.2h0m2.6,-10.4h0m-0.1,4.3h0m-3.4,-5.8h0m3.7,2.6h0m-5.3,-1.7h0m-4,3.1h0m7.4,-3h0m-4.2,-0.3h0m2.2,-1h0m-2,15.2h0m3.3,-14.7h0m-3.6,0.7h0m2,12.8h0m3.8,-9.5h0m-8.7,1.6h0m9,1.8h0m-4.9,-8.2h0m-2.7,12.7h0m-0.2,1.4h0m0.7,-12.5h0m-1.5,4.3h0m8.1,-2.7h0m-8.9,3.3h0m6.2,8.5h0m-4.8,-0.9h0m6.1,-3.9h0m-5.9,-8.5h0m-0.6,11.1h0m4.5,1.9h0m4.3,-7.8h0m-5.3,9.2h0m-4.3,-11.5h0m1.4,-2.3h0m3.7,-1.6h0m3,-0.2h0m17.7,0.5h0m-0.4,12.9h0m-4.8,-6.8h0m1,-6.5h0m1.2,12.9h0m6.4,-6.8h0m-6.4,5.4h0m6,-1.6h0m-7.9,-0.5h0m6.5,-8.7h0m-6.4,2.4h0m1.1,6.9h0m-0.7,-8.6h0m-0.9,3.1h0m0.1,2h0m8.8,4.5h0m-3.1,-10.5h0m2.6,10.8h0m-3.7,-10.5h0m3.5,0.4h0m-3.6,12.9h0m-2.9,-3.9h0m3.1,-10.2h0m-2.7,12.4h0m6.8,-9.2h0m-0.1,-0.6h0m-0.2,3.3h0m-8.4,1.9h0m0.4,-6.9h0m0.2,-0.6h0m8.1,6.5h0m-1.3,-4.9h0m-2.2,-0.7h0m-4.6,-2h0m4.1,14.3h0m0.4,0.6h0m-5.7,-9.1h0m2.6,7.7h0m7.2,-8.5h0m-0.8,0.2h0m-8.6,1.2h0m1.6,6.7h0m5.1,0.3h0m2.1,-5.6h0m-1.5,6.1h0m-6.1,-3.2h0m7.2,-6.3h0m-6,8.2h0m5.2,-0.5h0m-4.7,-12.2h0m5.6,12.8h0m-8.2,-6h0m6.3,-5.8h0m-0.7,1h0m3.8,5.1h0m-3.4,-4.9h0m-1.3,-1.6h0m-4.7,-0.1h0m8.5,6h0m-6.4,7.8h0m-0.4,-15.1h0m-1.8,5.2h0m4.2,10.5h0m3.8,-1.6h0m-0.2,-10.3h0m-5.3,-3.3h0m5.8,13h0m-3.6,-11.1h0m3.5,9.5h0m-3.3,-9.7h0m1,0.7h0m2.2,9.4h0m-0.6,-8.7h0m1.7,7.9h0m-0.4,0.7h0m-0.4,-0.8h0m-7.4,-11.2h0m-0.1,10.9h0m7.8,-1.9h0m-4.1,7.1h0m-1.5,-15.9h0m-3.8,6.1h0m8.3,6.4h0m-4.6,1.9h0m1,-12.8h0m-1.8,11.9h0m5.4,-11.3h0m-7.6,6.1h0m0.1,1.2h0m7.1,-6.7h0m-3.2,11.7h0m-4.8,-7.1h0m7.7,5.9h0m1.9,-6.2h0m-8,5h0m7.2,-8.7h0m0,9.5h0m-6.5,-11.7h0m-1.6,5.7h0m0.4,2.7h0m8.3,-5.1h0m-0.2,1.7h0m0.4,-2.1h0m-1.2,-1.3h0m0.8,4.4h0m-1.1,-5.6h0m-6.3,10.9h0m4.5,2.8h0m-5.4,-6.5h0m6,6.2h0m-2.3,-13.4h0m4.7,5.1h0m-7.1,5h0m7.5,-6.5h0m-7.2,6.6h0m7.2,-1.2h0m-9,-6.6h0m8.8,2.8h0m-7,5.9h0m-1.8,-9.2h0m1,6.5h0m1.4,4.2h0m-2.2,-9.2h0m8.5,4.7h0m-7.2,3.9h0m6.4,-10.2h0m-2.7,-1.5h0m-5.5,4h0m8.9,3.3h0m-7.2,-9h0m4.7,2.2h0m3,8.2h0m-7.6,-9.1h0m7.6,7.9h0m0.4,-0.3h0m-8.7,-6.7h0m-0.1,7.1h0m5.4,4h0m0,-11.4h0m-2.7,-1.1h0m2.5,0.8h0m-4.6,-0.6h0m-1.1,3.9h0m9,1.3h0m-9.7,-0.3h0m8.8,5.6h0m-3.2,4.2h0m3.8,-7.9h0m-0.9,-6h0m-4.5,-0.8h0m1.5,14.3h0m-2.3,-0.2h0m-1.2,-1.9h0m-2.2,-9.4h0m9.5,2.9h0m-0.3,0.1h0m-1,-3.8h0m-7.6,2.5h0m5,-3.7h0m0.9,13.3h0m-6.5,-10.1h0m1,2.7h0m4.6,-5.7h0m-4.4,6.3h0m3.6,7.2h0m0.7,-14.4h0m-4.7,8.6h0m1.8,-8.7h0m-2.3,4.8h0m4.2,-4.5h0m-1.2,12.6h0m5.8,-2.6h0m-4.6,-10.7h0m3,13.5h0m1.7,-1.4h0m-1.5,-0.2h0m-2.7,2.5h0m4.2,-10h0m-4.1,-4.3h0m-4.3,4.2h0m8.7,2.9h0m-6.3,5.5h0m26.1,-0.2h0m-2.6,-11.9h0m-2.6,12.8h0m-0.4,-12.1h0m-0.5,-1.2h0m-1.9,10h0m1.5,-8.4h0m6.3,9.9h0m-7.7,-1.3h0m-0.1,1.2h0m-0.2,-6.6h0m6.1,-4h0m-1,-1.2h0m0.8,0.2h0m2.5,11.2h0m1.2,0.1h0m-7.3,1.1h0m-1.9,-6.8h0m2.4,-5.8h0m-0.2,12.3h0m2.4,-12.7h0m-4.2,12.3h0m7.4,1.8h0m-8.9,-5.1h0m2.5,3.8h0m-2.2,-5.9h0m8.1,-2.9h0m-5.1,-2.5h0m5.3,1.2h0m-7.8,2.8h0m6.1,-4.1h0m2.6,9.1h0m-0.1,-4.2h0m-2.1,-5.1h0m-6.8,4.3h0m-0.1,5.7h0m8.8,0h0m-6.7,-9.7h0m4.8,-0.8h0m1.6,4.7h0m1,2.4h0m-3.7,-6.6h0m-6,5h0m8.3,7.3h0m0.6,-9.4h0m-8.4,7.5h0m5.8,-11.4h0m-3.1,13.6h0m-3.3,-5.9h0m2.9,-6.3h0m-2.9,3.3h0m3.8,-3.9h0m4,2.1h0m-5.7,10.4h0m5.3,-11.6h0m3,5.3h0m-0.7,1.9h0m0.2,1.4h0m-6.9,2.3h0m-2.2,-3.6h0m8.5,-4.9h0m-8.7,1.1h0m2.6,8.1h0m6.8,-7.7h0m-2.7,-3.4h0m1.6,9.7h0m0.1,0.2h0m1.7,-5.5h0m-1.4,-0.7h0m-3.4,7.2h0m-1.5,-0.5h0m-3.6,-6.3h0m1.7,-4.9h0m-1.5,2.5h0m3.5,-3.9h0m-0.7,0.8h0m-3.1,7.7h0m9.4,0.3h0m-8.7,-5.4h0m7.2,-1.1h0m-0.2,-0.2h0m-7.5,5.5h0m3.5,6.2h0m5.2,-7.1h0m0.4,0.7h0m-8.2,5.5h0m8.1,-0.6h0m-7.2,0.3h0m-2.6,-9.1h0m9.9,6.3h0m-1.1,-4.5h0m-3.9,7.5h0m4.2,-7.3h0m-8.5,-0.4h0m9.4,0.1h0m-5.2,8.9h0m5.2,-6.2h0m-1,-2.4h0m-7.9,7h0m4.4,1.6h0m-3.3,-11.6h0m6.3,2.5h0m-5.3,-3.6h0m5,10.9h0m2.4,-5.2h0m-10.8,1.8h0m0.9,-2.7h0m3.5,-6.1h0m3.5,2.3h0m-7.9,2.4h0m7.2,10h0m3.2,-6.6h0m-9.4,-3.5h0m8,0.1h0m-1.6,8.8h0m-6.5,-9.6h0m8.9,3.3h0m-5.8,-6h0m1,12.8h0m2.6,-1.1h0m-2.2,-12.9h0m-3.5,11.8h0m-1.1,-2.2h0m5.7,3.5h0m-3,-11.5h0m2.6,11.9h0m3.8,-6.9h0m-6.7,6.3h0m5,0.2h0m-4.6,-11.9h0m3.1,-0.1h0m3.1,10.2h0m0.1,0.4h0m-7.2,-9.9h0m6.6,10.6h0m-3.8,-12.1h0m-5.2,7.9h0m0.9,-4.9h0m6.2,10.3h0m2.9,-6.7h0m-7.4,5.5h0m-1.7,-10.3h0m4.1,11.7h0m4.8,-6.7h0m-0.8,-1.9h0m-7.7,-4h0m5.1,12.2h0m3,-6.8h0m-6.2,6.3h0m1.5,-13h0m4.5,4.8h0m0.3,2.5h0m0.4,1.3h0m0.1,-0.3h0m-8.5,-5.4h0m6.3,0h0m1.5,3h0m-8.4,-3h0m3.6,11.1h0m5.1,-6.7h0m-8.8,-0.1h0m2.5,6.1h0m3.5,-11.7h0m-0.8,-1h0m-5.5,5.8h0m3.8,-6.5h0m3.9,12.3h0m-0.5,-10.7h0m-6.3,1.4h0m-0.6,3.3h0m1.3,6.4h0m6.9,-8.7h0m0.9,3.5h0m-0.4,4.6h0m-2.3,-11.6h0m-0.9,0.8h0m3.2,6.5h0m-1.4,-6.1h0m-7.4,5.1h0m6.9,-3.5h0m-4.8,9.2h0m6.9,-5.8h0m13.3,6.9h0m4.7,-11.3h0m-5.6,1.6h0m3,9.2h0m-4.2,-6.7h0m5,-5.3h0m-4.1,11.4h0m7.9,-7h0m0.5,4.5h0m0.6,-1.7h0m-7.8,-5.8h0m-2.8,7.1h0m8,3.1h0m-1.4,-11.7h0m-5.3,4h0m4.8,7.7h0m4,-4.2h0m-9.8,-0.1h0m3.8,4.8h0m5.6,-7.9h0m0,2.1h0m-2.8,6h0m-6.6,-6.4h0m9.8,-2.2h0m-0.9,5.4h0m-5.9,-8.7h0m-1.1,1.6h0m7.6,5.4h0m-1.9,-6h0m1.5,6.2h0m-0.1,-4.3h0m-1.1,9h0m2,-8.8h0m-8.5,-1.8h0m7.9,7.7h0m-2.5,-8.3h0m2.1,11.1h0m-5.6,-11.1h0m6.3,7.4h0m0.2,-3.8h0m-1.8,-1.7h0m-7.2,1.1h0m1.3,7.6h0m-1.6,-4.3h0m1.3,-5.8h0m7.6,1.5h0m0.7,6.3h0m-9.6,-2.9h0m2.8,-5.5h0m6.5,4.7h0m-0.9,-2.4h0m-7,9.3h0m1.4,-12.1h0m0.7,11.5h0m-0.4,-11.3h0m4.3,11h0m-5.7,-9.5h0m2,10.5h0m-1.1,-1h0m-3.8,-4.9h0m6.4,-6.1h0m-2.7,-0.4h0m-3.3,6.6h0m0.7,-1.3h0m2.6,-4.4h0m-0.6,11.9h0m-2,-8.9h0m2.9,-3.8h0m-3,10.4h0m9.1,-3.9h0m-0.2,-3.6h0m-0.8,9.3h0m-4.8,0.3h0m-1.9,-11h0m2.8,-1.5h0m3,1.1h0m-2.4,-2.4h0m-0.4,12.7h0m-3.4,-0.8h0m7.3,-8.6h0m-8.7,4.2h0m8.2,-3.5h0m-7.4,8.9h0m-0.6,-6.9h0m4.4,6.5h0m-2.2,-9.9h0m7.1,3.6h0m-8.9,0.5h0m0.8,5.3h0m4,-10.9h0m4.9,8.1h0m-2.5,-5.8h0m2.2,2.1h0m-9.5,5.9h0m0.6,-7.4h0m1.4,8.5h0m3.5,-11.8h0m-3.7,2.5h0m-1.3,9.1h0m8.4,-6h0m-7.4,-2.6h0m-2,1.4h0m8.4,8.1h0m2,-7.2h0m-6.8,-5h0m4.1,0.6h0m-6.4,1.7h0m5.9,9.3h0m-5.4,1.4h0m4.2,-12.5h0m3.3,5.4h0m0.1,2.3h0m-8.2,3.2h0m6.9,-9.4h0m-6.5,0.5h0m2.4,9.6h0m-3.5,-5.3h0m7.9,4.6h0m-1.8,-10.8h0m3.3,7.2h0m-1.7,3.3h0m-8.5,-1.8h0m0.5,-0.9h0m0,1.5h0m6.5,1.5h0m-6.2,-6.7h0m3.4,-4h0m-1.3,0.7h0m6.6,2.6h0m-8.8,4.4h0m0,-3.3h0m2,-3.6h0m1,-0.8h0m-3.4,7h0m3.6,-7.9h0m-3,8.7h0m8.2,1.5h0m-1.9,1.4h0m-4.6,-9.6h0m6.5,1.7h0m-3.8,7.9h0m3.7,0.3h0m-7.8,-7.8h0m6.2,-3.5h0m-7.2,8.5h0m2.2,-7.1h0m7.2,7.6h0m0.2,-4.9h0m-7.5,-1.9h0m4,-3.5h0m-5.1,11.8h0m-0.5,-5.2h0m5.7,5.7h0m-3.4,-10.5h0m4.7,1.1h0m1.2,0.3h0m-7.2,0.5h0m-0.8,5.9h0m-0.1,-4h0m9.1,6.7h0m-9.7,-7.9h0m3.5,8.8h0m0.5,0.5h0m2.4,-0.6h0m-5.8,-7.7h0m9,4.5h0m-10,-3.7h0m6.8,6.2h0m-3.5,1.4h0m2.7,-0.8h0m3.7,-5h0m-5.8,-6.8h0m5.8,10h0m0.3,-6h0m-9.1,0.1h0m0.2,1.6h0m8.1,-3.4h0m-7.1,8.9h0m6,-9.7h0m-6.6,1.3h0m5.4,8.3h0m-2,-11h0m-3.5,3.9h0m8.4,2.5h0m-7.4,-5.1h0m8.2,4.1h0m-9.5,-0.3h0m9.1,-0.7h0m-1.9,-2.3h0m-0.2,-1h0m19.3,-2h0m2.7,10.6h0m-6.4,1.2h0m-2.9,-4.9h0m10.4,-0.4h0m-9.9,4.9h0m9.1,-7h0m-9.5,7.2h0m7,-10.6h0m2.4,11.2h0m-9.2,-2.8h0m-1,-1.5h0m6.4,-7.2h0m-4.4,10h0m5.5,1.3h0m1,0.2h0m1.8,-0.7h0m-9.1,-2h0m2.5,-7.7h0m7.5,5.6h0m-5.2,-8.1h0m-1.6,12.4h0m-0.3,-10h0m7,3.8h0m-10,-0.3h0m3.6,6.7h0m5.7,-5.8h0m-8.5,-2h0m9.4,1.5h0m-2.9,-5.2h0m-0.1,11.4h0m2.3,-4h0m-0.4,1.3h0m-2.9,-8.3h0m3.1,5h0m-0.7,5.6h0m-1.9,-10.1h0m-0.4,-1h0m0.2,0.6h0m2.5,6.9h0m-5.3,-7.2h0m1.5,0.1h0m-1.4,10.9h0m4.7,-10h0m0.1,10.7h0m0.8,-4.5h0m-5,4.8h0m-1,-12.3h0m3,11.4h0m-5.1,-9.2h0m8.9,4.4h0m-1.2,-3.5h0m-10,2.5h0m10.9,-1.8h0m-11.2,1.9h0m1.1,0.9h0m-0.2,-1.8h0m2.1,6.6h0m4,0.2h0m-7,-3.6h0m10.4,2.8h0m-4.6,-11.5h0m-4,10.6h0m9.5,-4.9h0m-8.1,-2.6h0m7.5,8h0m-7.7,-8.9h0m-2.3,2.4h0m0.6,-0.2h0m6.7,7.7h0m-3.8,-11.2h0m-0.7,1.9h0m-3.5,4.7h0m11.3,2.9h0m-0.3,-3h0m-9.8,-1.4h0m-0.5,4h0m8.8,-6.8h0m-9.6,3.4h0m10.9,-1.5h0m-3.5,7h0m-0.3,0.3h0m-6.4,-2.7h0m10.2,-2.7h0m-0.4,0.6h0m-2.3,-5.8h0m-3.9,10.7h0m-3.1,-6.3h0m9.8,4.9h0m-9.3,-1.1h0m-0.8,-2.3h0m9.6,-0.7h0m-2,5.1h0m-1.4,-10.8h0m-6.1,4.4h0m10.5,0.5h0m-9.2,-2h0m-1.4,5h0m0.7,2.2h0m9.2,-1.4h0m0.1,-3.4h0m-10.8,0.2h0m8.6,-6h0m-7.4,10.7h0m6.7,1.4h0m2.5,-5.5h0m-1.7,4.9h0m-3.1,-10.9h0m4.1,2h0m-8,-0.1h0m9.3,1.8h0m-1.7,-2.2h0m-2,-2.5h0m-0.3,0.8h0m3.8,8.6h0m-9,-6.1h0m6.9,9h0m2,-6.6h0m-7.2,-3.7h0m-2.5,7.4h0m9,1.2h0m-4.9,1h0m5.3,-8.1h0m-0.2,-0.9h0m-5.6,-1.6h0m1.6,11.2h0m-2.7,0.6h0m7.5,-4.8h0m-8.2,3.7h0m7.9,-5.3h0m-10.2,-0.7h0m7.6,7.2h0m-8.1,-5.7h0m11.1,-3.3h0m-7.1,-2.7h0m6.2,10h0m0.2,-2.8h0m0.4,-2.4h0m-0.7,5.3h0m0.9,-2.7h0m-4.3,3.1h0m4.5,-4.7h0m-9.7,-2.9h0m0,5h0m0.8,2.5h0m0,0.9h0m6.3,-12.3h0m-8,6.7h0m8.4,-4.7h0m-2.2,9.4h0m-6.2,-4.7h0m0.5,3h0m10,0.7h0m-10.1,-4.6h0m8.7,-2.9h0m-1.6,9.1h0m2.4,-5.7h0m-5.1,6.1h0m5.1,-5.5h0m-6.9,5.7h0m7.4,-2.4h0m-3,-9.1h0m-7,5.8h0m9.2,3.5h0m-4.8,-10.4h0m4.6,10.7h0m-3.8,-10.6h0m1.3,11.6h0m0.8,0.6h0m-6.6,-8.7h0m5.3,-3.6h0m-3.5,12.2h0m7.1,-7.3h0m-9.5,1.9h0m4.8,-6.6h0m3.5,0.9h0m1.8,4h0m-3.2,-4.3h0m3.3,3.3h0m0,0.6h0m-5.5,-4.8h0m1.1,11.5h0m-1.2,-11.2h0m4.8,10.7h0m-5,0.6h0m4.8,-9.2h0m-4.4,-3h0m-5,9.3h0m0.2,0.1h0m19.1,-2.1h0m12.4,2.8h0m-5.5,-7.7h0m5.4,8.7h0m-13.1,-2.8h0m10.6,-4.7h0m-10,2.2h0m-0.2,3.2h0m4.5,-8.2h0m1.9,11.1h0m-6,-6.4h0m12.5,2.2h0m-11.7,1h0m8.8,-5.6h0m-3.9,-2.1h0m6.3,8h0m-2.4,3.3h0m-2.6,-0.9h0m3.3,0.1h0m-10.1,-5.8h0m0.4,2.5h0m-0.3,-2h0m11.2,4.1h0m-1.6,1.6h0m-0.7,0.1h0m0.5,0.5h0m0.2,-8.8h0m2.6,6.8h0m-6.2,-8.8h0m3.8,2.5h0m1.1,-0.6h0m-10.6,5.6h0m8.6,-6h0m-3.3,8.2h0m1.7,0.1h0m3.2,-6.4h0m-7,-3.3h0m7.8,9.1h0m-6.1,0.5h0m4.7,-7h0m-2.7,-2.5h0m-2.7,10.6h0m6.1,-7.4h0m-7.3,-3.9h0m-0.6,1.8h0m0.4,-1.8h0m4.5,10.3h0m4.5,-1.8h0m0.1,2h0m-7,-10.1h0m3,10.3h0m-7.6,-8.5h0m9.4,0.7h0m1.9,3.8h0m-8.7,-6.4h0m4.7,0.3h0m-6.7,1.1h0m1.8,-0.2h0m6.1,9.6h0m-4.3,-0.4h0m-0.1,-10.6h0m1.1,0.2h0m5.6,7h0m-8.8,-5.5h0m-0.4,0h0m-1.2,7.8h0m8.1,-8.3h0m-9.1,6.4h0m1.7,-4.8h0m8.2,0.3h0m1.5,7.3h0m-3.5,0.8h0m-4.4,-10.3h0m4.1,0.2h0m-3.7,-0.3h0m-2.3,8.9h0m0.8,-0.5h0m-2,-2h0m-0.2,-0.6h0m4.7,-6h0m5.5,3.4h0m-8.8,-2.3h0m6.1,9.2h0m-8,-6.9h0m8.4,6.7h0m0.7,-9.3h0m-2.8,8.9h0m3.5,-7.7h0m-10,4h0m1.5,1.2h0m11.2,2.6h0m-12,-3.1h0m0.3,0h0m12.2,2h0m-6.6,-8.5h0m-2.4,9.1h0m-0.2,0.5h0m2.4,-10.1h0m-5,3.5h0m9.8,7h0m0.6,-3.2h0m-0.2,-1.9h0m-11.2,-1.8h0m10.9,6.1h0m-9.1,-0.2h0m5.3,-9.4h0m1.3,10.3h0m1.9,-7.2h0m-7.8,6.6h0m8.3,-4.4h0m-7.2,-5.2h0m-4.7,4.1h0m13.1,5h0m-8.6,1.2h0m1.1,-10.5h0m5.6,10.9h0m-6.2,-11.1h0m2.2,10.8h0m1.6,-9.5h0m2.6,1.6h0m1,1.4h0m-4.3,-3.5h0m-7.3,6.4h0m8,-6.1h0m2.4,1.8h0m-9.9,2.1h0m8.5,5.4h0m3.4,-3h0m-10.3,-5.2h0m5.8,-1.4h0m-4,0.1h0m-0.1,8.8h0m6.4,1.7h0m0.8,-0.8h0m-9.1,-1.2h0m8.7,-7.8h0m-4,-0.9h0m-3.1,9.5h0m5.5,-8.2h0m1.9,0.3h0m-9.4,0.6h0m0.7,6.1h0m2.7,-8.9h0m-0.4,-0.9h0m7.2,9.5h0m-0.8,-4.6h0m-2.6,-2.9h0m-1.3,8.8h0m-6.3,-1.9h0m11,-0.6h0m-5.5,-6.9h0m-4.5,8h0m2.9,-8.2h0m-1.8,9.3h0m3.8,0.6h0m-0.5,-10.1h0m6,7.4h0m-10.9,-4h0m0.6,5.5h0m1,0.1h0m7,-6.7h0m0.6,0.6h0m-10,0.7h0m0.8,4.8h0m9,-6.1h0m1.7,5.2h0m-1.5,-5.6h0m-4.1,-1.7h0m-2.8,10.1h0m6,-0.1h0m-10.1,-3.4h0m12.7,3h0m-8.8,0.4h0m1.4,-0.3h0m0.8,0.8h0m-3.7,-2.8h0m6.3,-6.8h0m-3.2,-1.2h0m-3.8,7.3h0m5.9,3.5h0m1.2,-10h0m2.8,4.3h0m-9.5,3.5h0m11.8,-0.8h0m-3,2.9h0m-4.8,-0.5h0m-5,-3.5h0m8.9,4.2h0m-6.9,-8.7h0m8.5,2.7h0m19.9,-3h0m-0.3,7.2h0m-6,1.4h0m0,-10.5h0m0.9,10.5h0m-3.5,-0.3h0m5.5,-0.1h0m-5.5,-6.5h0m-0.1,-0.8h0m9.9,4h0m-10.4,1.2h0m-0.3,-3.7h0m0.4,-1.8h0m10.3,6.8h0m0.5,-5.9h0m-2.9,-2.3h0m-8.3,6.3h0m-1.1,-1.2h0m2.1,2.9h0m-1.5,-1.2h0m6.6,-7h0m5.6,5.5h0m-4.1,3.8h0m-6.7,-6.2h0m-1.7,1h0m11.5,2.2h0m-10.3,-4.2h0m6.4,6.4h0m-6.5,-4.8h0m-0.1,4h0m9.7,-6.3h0m-7.2,-2.1h0m2.4,10.2h0m2.3,-0.4h0m-4.5,-9.5h0m7.1,8.5h0m-8.6,1.5h0m0.6,-8.9h0m10,5.5h0m-2.7,-5h0m-3,7.9h0m2,-8.5h0m2.3,2.9h0m-0.4,-1.4h0m0.2,-0.2h0m-3.8,7h0m-0.5,-9.4h0m4.7,2.7h0m-10.9,3.9h0m4.2,4.7h0m3.3,-10.9h0m-4.2,9.6h0m7.3,-1.1h0m-10.8,-2h0m11.8,-4.9h0m-9.1,-1.5h0m7.4,7.5h0m-5,2h0m-4,-6.5h0m5.9,6.8h0m-5.6,-1.5h0m10.2,-3.3h0m0.1,0.6h0m-0.2,-0.2h0m-10.3,-3.9h0m5.8,8.2h0m5.2,-5.9h0m-11.4,5h0m-1.3,-1.2h0m8.7,0.7h0m-8.6,-2.1h0m11.6,-1.8h0m0.1,0.4h0m-1.4,-3.4h0m-10,2.8h0m8.9,-3.6h0m2.8,3.3h0m-10,5.9h0m3.1,-10.9h0m-2.1,1h0m1.6,-0.4h0m2,9.5h0m-5.2,-5.6h0m3.3,6.4h0m-3.4,-1.3h0m10.6,-4.6h0m-10.8,-0.5h0m-0.8,-0.1h0m0.2,0.8h0m1.6,4.7h0m5.1,-0.1h0m-2.6,0.8h0m-4.3,-2.2h0m10.8,0.9h0m-11.2,-2h0m-0.3,0.8h0m3.7,-6.9h0m-2.1,3.4h0m4.7,-3.9h0m1,9.2h0m4.4,-4.5h0m0.5,1.9h0m-11.9,0.6h0m3.3,2.6h0m3.9,-0.7h0m-1.9,1.5h0m5.5,-8.4h0m-9.2,0.7h0m9.7,4.2h0m-4,2.6h0m4.7,-2.8h0m-3.6,-5.9h0m-3.9,9.4h0m-3.2,-8.5h0m1.8,-1.7h0m-1,10h0m-1.5,-5.9h0m2.1,-3.9h0m-2.8,4.9h0m3.7,5.1h0m9.1,-6.1h0m-11.3,-0.5h0m7.1,5.1h0m-8,-1.6h0m5.4,2.9h0m-4.1,-6.8h0m0.4,-3.2h0m5.7,8.7h0m4.1,-2.7h0m-9,-5.9h0m-1.7,2.4h0m10.2,3.6h0m-7.3,-6.5h0m1.5,10h0m-3.9,-9.2h0m-0.4,7.4h0m3.4,2.8h0m2.1,-10.6h0m4.1,1.6h0m0.6,3.9h0m0,-4.2h0m-0.3,6h0m-10.4,0.8h0m0.2,-4h0m11.1,1.8h0m0.2,-3.2h0m-1.6,-2.4h0m-7.8,0.4h0m0.3,9.7h0m-2.3,-3.2h0m11.7,0h0m-9.8,-6.8h0m-3.6,5.5h0m10.6,2.8h0m-8.8,-0.2h0m2,1.3h0m-3.2,-4.6h0m11.6,-3.1h0m0.9,0h0m-7.7,8h0m-1,-10h0m2.2,9.5h0m6.8,-4.8h0m-12.8,0h0m3.5,-5h0m-2.3,4.6h0m5.3,5.1h0m-5,0h0m5,-0.1h0m4.9,-8.6h0m1.2,1.8h0m-4.5,6.4h0m1.7,-9h0m-2.8,9.5h0m-4.9,-6.7h0m4.4,7.4h0m-3.7,-9.9h0m-1.4,2.8h0m1.1,6h0m3.3,-10.1h0m-6,8.1h0m9.6,-6.9h0m-9.7,6.3h0m6,-6.5h0m-3.7,2.9h0m3.5,-3.2h0m-3.9,8.7h0m7,-8.4h0m-4.8,10.8h0m4.9,-1.4h0m-7.4,-7.5h0m2.5,-2.3h0m-2.3,2.9h0m3.2,7.5h0m3.6,-10.4h0m24,2.4h0m-5.7,-2.8h0m6.1,6.8h0m-7.5,-7.3h0m-2.7,8.9h0m-2.7,-0.7h0m7.2,-6.8h0m1.5,8.9h0m-1.9,-9.1h0m4.9,1.8h0m-2.5,7.6h0m3.5,0.6h0m0.4,-4.3h0m-10.1,2.1h0m7.9,-6.6h0m0.3,-0.4h0m-10.4,2h0m4.7,-3.5h0m6.9,5h0m0.2,-2.6h0m-12.7,5.3h0m5.8,2.1h0m1.6,0.8h0m-2.3,-0.4h0m-0.5,-10.5h0m-1.9,2.1h0m6.7,8.4h0m3.9,-3.3h0m-5.8,3.7h0m2.7,0.1h0m-1.1,-0.7h0m3.3,-5h0m-10.7,-1.7h0m5.6,-2.4h0m-3,0.2h0m8.3,3.4h0m-8.5,-3.1h0m9,2.4h0m-0.1,-0.9h0m1.4,4.9h0m-11.4,0.7h0m9.3,-6.2h0m-8.4,6.7h0m-0.3,-7.1h0m3.9,7.7h0m3.2,1.1h0m-4.8,-0.2h0m0.6,-10.5h0m-4,2.8h0m-1.8,1.9h0m12.6,3.7h0m-0.7,-3.5h0m-6.6,5.1h0m8.3,-3.1h0m-6.1,-6h0m1.4,-0.3h0m-6.2,1.5h0m10,3h0m-11.8,-2.5h0m11.4,3.9h0m-4.4,-5.2h0m0.5,8.4h0m-7.2,-6.4h0m6.5,-2.5h0m4.1,4.1h0m-9.9,4.6h0m1.2,0.2h0m3.1,0.6h0m-1,-0.4h0m-0.1,-10.4h0m5.8,10.2h0m-2.9,0.8h0m-5,-10.1h0m5.4,1h0m-8.5,4.4h0m2.7,3.6h0m3.4,1.1h0m1.8,-0.5h0m-4,-9h0m-0.8,0.2h0m9.4,5.9h0m-10.3,-6.3h0m1,-0.8h0m-0.5,0.5h0m7.2,0.8h0m-9.8,3.4h0m6.9,4.9h0m5.4,-0.3h0m-7.5,0.7h0m4.3,-8.4h0m3,0.5h0m-3.3,8.2h0m-0.5,-0.6h0m-0.9,0h0m4.5,-3.8h0m-3,-5.5h0m1.2,1.9h0m3.5,4.2h0m-11.3,2.2h0m2,-8.4h0m-0.6,9h0m9.1,0.6h0m-1.7,-6.8h0m-3.7,7h0m-1.6,-0.1h0m-6.1,-4.4h0m12.4,3.9h0m-3.6,-8h0m-9.8,2.7h0m1.9,-0.7h0m12,-0.2h0m-0.5,2.3h0m-12.7,0.6h0m10.5,-4.9h0m-10.1,2.7h0m11.3,-1.4h0m0.2,7h0m-4.7,0h0m5.8,-4.6h0m-4.2,-4h0m-8.4,4h0m11.4,-2.5h0m-10.4,6h0m-1.3,-2.2h0m9.7,-4.9h0m-1,8.7h0m-3.7,-0.5h0m2.8,-8.8h0m-5.2,1.5h0m10.9,7.7h0m-5.5,-9.8h0m-5.6,2.5h0m-3.6,2.9h0m9.5,-5h0m-5.4,1.6h0m11.6,5.5h0m-1.8,-1.5h0m-11.2,2.4h0m2.8,-8.9h0m7.9,4h0m-5.3,5.9h0m-2.7,-0.3h0m8.7,-4.8h0m-12.4,1.5h0m11.4,-2.8h0m-4.3,-2.3h0m-1.4,8.7h0m-5.8,-5.1h0m0,-1.3h0m7.3,6.4h0m-7.7,-4.4h0m0.8,2.1h0m9.4,2.5h0m-4.3,-9.8h0m-1.8,0.3h0m-3.8,5h0m12.1,-2.2h0m-11.7,3.8h0m0.4,1.7h0m11.6,1.3h0m-6.5,-0.2h0m-1.2,0.1h0m-2,-8.1h0m7.6,0.5h0m0.1,-0.4h0m-2.2,-0.8h0m-6.2,0.4h0m-3,3.4h0m13.9,-0.5h0m-0.7,0.5h0m-11.5,2.8h0m11.2,-3.4h0m-2,5.7h0m-5.2,-0.1h0m-2.6,-1.1h0m10.7,-2h0m-12.7,-1.3h0m10.5,-3.6h0m1.7,4.5h0m-12.4,-3.4h0m4,6.4h0m3.1,-9h0m-6.6,6.3h0m-0.5,-2.8h0m14.3,4.8h0m-10.2,1h0m-1.2,0.3h0m-1.8,-2.6h0m-0.7,-0.8h0m11.9,-0.4h0m-10,2.6h0m9.9,-3h0m-0.2,-3h0m0.7,2.4h0m0.2,-0.9h0m-10.4,4.1h0m9.2,2.4h0m-8.3,-9.3h0m7.2,9.1h0m1.3,-6.8h0m0.9,1.9h0m-4.6,4.1h0m0.2,0.1h0m2.7,0h0m-3.5,0.1h0m-0.4,0.4h0m-0.2,-0.6h0m22.3,-0.5h0m-9.3,-2.2h0m8.8,2.3h0m-8.3,-4.6h0m2.5,5.3h0m10.1,-6h0m-10.5,5h0m-2.7,-3.7h0m11,2.9h0m-9.5,-5.2h0m4.3,-1.4h0m5.9,5.5h0m-12.1,-2.1h0m1.1,-0.6h0m1.4,5.3h0m-1.2,-1.4h0m6.5,2.2h0m-7.2,-4.3h0m6.4,-4.8h0m-2.1,0.4h0m1.1,9.1h0m-4.9,-3.2h0m10.5,0.7h0m-6.6,-7h0m5.1,7.2h0m-7.4,-5.9h0m-0.3,0h0m-2.3,1.3h0m2.5,5.6h0m5.3,-8.1h0m-6.9,1.5h0m3.2,6.7h0m-3.1,-5.3h0m11.8,0.6h0m0.1,-2.2h0m-3.7,6.9h0m-7.1,-6.6h0m2,6.6h0m-4.3,-3.8h0m3.7,4.4h0m-4.1,-3h0m4.5,-5.2h0m6.1,-0.1h0m-2.7,7.9h0m6.2,-5.5h0m-0.1,1.8h0m-5,-4.4h0m5.3,0.3h0m-13.4,3.7h0m9.4,2.9h0m-9.4,-4.1h0m9,4.9h0m2.6,-2h0m-8.3,-5.3h0m-2.9,3h0m11.6,-2.7h0m0.6,2.3h0m-8.8,-2.6h0m9.6,2.7h0m-1.4,1.6h0m-0.9,1.5h0m2.9,-4.3h0m-11.4,6.6h0m10.2,-4.3h0m-11.1,2.1h0m11.9,-4.9h0m-0.5,2.4h0m-11.2,-2.6h0m-1.9,1.2h0m-0.1,2.5h0m12.3,-0.7h0m-3.5,3.1h0m4.3,-2h0m0.3,-1.5h0m-3.5,-3.7h0m1.1,-0.1h0m0.1,0.2h0m-7,8.4h0m3.5,-0.5h0m-2.1,-8.5h0m7.8,3.8h0m-10.9,4h0m-1.8,-5.7h0m12.8,-0.3h0m-0.3,1.5h0m-12.5,2.3h0m2.6,2.8h0m9.5,-3.8h0m-1.9,2.1h0m0.5,0.2h0m-11,-2.3h0m3.9,4.4h0m-4,-2.7h0m12.3,-0.3h0m-10.8,-4.2h0m11.4,-0.9h0m-13.8,2.8h0m0,1.9h0m2.3,1.8h0m4.2,-7.1h0m-4.5,1.6h0m0.8,6.2h0m-2,-2.4h0m1.8,1.3h0m-1,-6.2h0m8,7.7h0m-9.2,-5h0m3.3,-2.8h0m9.6,3.8h0m-13,-0.8h0m14.1,-1.6h0m-11,-1.2h0m5.5,-0.3h0m4.5,0.3h0m-13.3,4.7h0m11.1,1.1h0m-9.1,-4.6h0m-1,1.5h0m1.9,3.7h0m4.1,1.4h0m7.2,-5.1h0m-11.1,3.7h0m9.9,-0.5h0m-12.2,-1h0m12.8,-1.3h0m-10.6,4.2h0m-1.5,-6.2h0m5,6.3h0m5.3,-2.3h0m-8.2,2.6h0m9.8,-4.6h0m-12.5,-0.4h0m4,-3.4h0m2,0.1h0m5.8,0.1h0m-0.9,5.4h0m-2.9,1.8h0m-6.5,-0.9h0m4.8,-6.4h0m6,5.8h0m-9.3,1.4h0m6.1,0.4h0m3.4,-4.7h0m-7.8,-3.3h0m3.4,7.8h0m-5.5,-0.3h0m5.2,-7.2h0m-7.2,6.6h0m0.2,-6h0m7.6,6.6h0m4.9,-3.2h0m-5.2,3.3h0m-6.9,-5.9h0m9.8,-2.5h0m-6.4,9h0m-5.7,-4.7h0m13.9,1.4h0m-2.4,1.6h0m-1.3,0.4h0m-9,-3.8h0m5.2,-3.1h0m-3.1,0.6h0m-2.9,4.2h0m1,1.1h0m5.3,-6.4h0m-1.8,8.5h0m3.6,0.4h0m-0.6,-8.7h0m6.9,1.4h0m-9.6,7h0m-4.4,-3.7h0m-0.6,-1.6h0m6.2,-2.8h0m3,-0.3h0m3.8,3.9h0m-5.1,-3.7h0m-3.8,7.8h0m-3.6,-6.1h0m12.5,2h0m-12.1,-1h0m2.8,4.8h0m-3.4,-3.5h0m12.5,1.5h0m0.5,0.1h0m-4,2.8h0m-6.5,-7.4h0m-2.3,4h0m9.3,2.5h0m3.6,-1.9h0m0.4,-2.4h0m-12.2,3.3h0m9.6,0.8h0m-6.3,-6.9h0m-2.3,6.3h0m2.7,-6.2h0m6.9,0.1h0m-1.5,-0.4h0m-10.6,3h0m14.8,-1.2h0m-3.9,5.4h0m-9.6,-1.7h0m12.4,-1.2h0m-13.1,0.1h0m10.7,-4.2h0" stroke="#f3766e"/>
<path d="M55.7,199.2h0m-0.2,-0.8h0m0.6,0.8h0m-0.4,0.5h0m-0.5,-1.3h0m0.3,0.1h0m0.6,-0.2h0m-1,0.2h0m-0.7,-0.1h0m1.7,1.3h0m-1.7,-0.5h0m1.1,0.3h0m0.6,0.1h0m0.2,0h0m-0.6,-0.9h0m-0.5,0.5h0m0.3,-0.2h0m-0.2,-0.6h0m3.9,-30.2h0m7,-6.7h0m-2.5,1.1h0m5.2,-3h0m1.8,-1h0m1,-0.9h0m-0.9,1h0m-10.2,7h0m11.8,-8.2h0m-1.2,0.4h0m-12.9,13.1h0m8.7,-10.1h0m-8.5,9.2h0m-0.3,0.9h0m7.5,-9.2h0m-1.2,0.5h0m-5.7,6.5h0m11.4,-10.2h0m1.8,-0.5h0m-9.8,5.6h0m7.9,-5h0m0,-0.3h0m-11.1,10.1h0m1.3,-2.1h0m4,-4.4h0m1,0.1h0m-6.1,5.7h0m5.8,-5.9h0m4.4,-40.7h0m-7.7,-0.2h0m7.3,0h0m-4,-0.2h0m7,0.3h0m-0.6,-0.2h0m-8.5,0.1h0m0.7,-0.1h0m8.3,0.2h0m-6.9,-0.1h0m5.4,0.1h0m-12.4,59.9h0m0.6,2.2h0m-1,-3.7h0m1.8,-2.9h0m0.9,-4.6h0m0.9,-2.6h0m15.4,-38.2h0m5.8,11.7h0m-1.8,-19.4h0m-4.2,20h0m5.4,8.5h0m-4.7,-27.7h0m5.2,11.4h0m-0.4,-6.6h0m-4.8,-5.6h0m2.3,-2h0m2.9,21.6h0m-2.4,12.4h0m1.5,-29.3h0m0.7,23.6h0m-4.2,6.2h0m4,-4.4h0m0.4,-6.3h0m-5.3,8.1h0m5.2,-14.2h0m-1.5,-15.3h0m-4,26h0m-0.3,-4h0m3.9,-22.6h0m1.9,11.7h0m-1.8,-11.3h0m-3.9,11.4h0m11.6,18.9h0m-1.7,-1.5h0m-1.6,-24h0m4.6,-2.1h0m0.9,4.3h0m-6.4,14.3h0m6.7,-8.2h0m-0.8,-9.5h0m-4.3,24.2h0m1.6,-24.6h0m2.7,22.3h0m-1.8,4.7h0m-4.1,-10.5h0m11.3,7.8h0m2,-24.2h0m-4.8,21.3h0m-0.3,-6.7h0m6.9,-1.7h0m-6.9,3.3h0m4.2,-17h0m-1,25h0m1.3,-25.1h0m2.3,6.5h0m-3.8,18.5h0m-2.6,-19.9h0m1,19.5h0m3.8,0.8h0m-5.3,-12.2h0m6.9,1.3h0m8.9,-4.7h0m-6.5,13.4h0m-1.1,-7.9h0m8.1,-0.4h0m-5.3,-13.7h0m-2.1,3h0m6,18.7h0m-2.5,2.3h0m0,-0.3h0m2.8,-18.8h0m-6.7,-0.9h0m0.8,-2.4h0m4.7,21.8h0m0.4,-22h0m0.7,3.3h0m-2.3,-4.6h0m-4.4,9.4h0m-0.1,9.5h0m2.1,-18.8h0m0.7,23h0m0,-23.5h0m4.1,21.6h0m18.3,-13.6h0m0.1,3.3h0m-1.7,5.4h0m0.8,-10.5h0m-8.8,7.7h0m6.4,7.5h0m-5.7,-14.6h0m4.6,14.8h0m-0.5,0h0m1.6,-18.3h0m-0.1,0.1h0m-6,13.6h0m7.4,1.1h0m1,-12.5h0m-5.2,-0.8h0m4,14.4h0m-6.4,0.8h0m-1.1,-7.7h0m9.1,-5.8h0m-9.2,5.3h0m0.7,-4.9h0m0.9,-1.2h0m-1.4,10h0m-0.1,-2.6h0m3.3,-8.2h0m0.9,-0.7h0m-2.5,16.6h0m-0.6,-0.9h0m0,0h0m8.2,-12.9h0m-9.5,2.5h0m8.2,6.9h0m7.3,-7.9h0m4,13.5h0m1,0.1h0m-2.4,-16.2h0m1.3,0h0m-1.1,15.3h0m1.1,0.5h0m4.6,-16.3h0m-0.3,12.1h0m-6.9,2.2h0m7.1,-2.1h0m-8.5,-4h0m-0.1,2.3h0m10.6,-7h0m-0.2,4.4h0m-6.2,8.5h0m4.7,-5.3h0m-1.9,4.8h0m16.8,-17.2h0m6,2.4h0m-5,14.8h0m3.3,-15.2h0m-3.1,-1.6h0m-0.9,-0.3h0m2.4,1.4h0m-6.1,7.1h0m6.6,8.2h0m1.4,-14.8h0m2.4,2.5h0m-5.3,-3.6h0m5.1,3.2h0m-10,0.4h0m7.9,11.1h0m-7.5,-4.8h0m1.3,2.4h0m2.7,4h0m6.1,-11.3h0m-9.7,5.4h0m21.9,3.8h0m6.6,-11.6h0m-1.7,-2.7h0m-2.7,14.4h0m6.1,-2.7h0m-6.3,2.9h0m-3.2,-1h0m-1.2,-7.3h0m11.3,1.5h0m-9.6,6.4h0m0.4,-0.1h0m6.4,1.1h0m-3.8,-15.8h0m-4.1,14.2h0m-0.6,-7.5h0m0.1,-1.9h0m10.9,2.1h0m-11,0.5h0m8.9,-4.2h0m-8.8,1.1h0m-0.2,5.9h0m0.2,-4.1h0m2.7,8.7h0m-3.1,-3.8h0m10.2,-5.8h0m-5.1,10h0m6.4,-3.8h0m17.8,-8.6h0m-8.3,2.8h0m-0.3,0.6h0m-0.1,0.4h0m4.7,8.5h0m6.5,-5.3h0m-0.3,-4h0m-11.1,2.2h0m4.7,7.1h0m5,-11.4h0m1.4,7.6h0m-3.6,-10.1h0m3.7,10.3h0m-11.2,-1.7h0m11.2,0.8h0m-1.2,3.4h0m-5.5,1.2h0m7,-8.7h0m-1.6,-2.7h0m0.5,10.1h0m-2.2,1.1h0m13.9,-11.1h0m9.3,0.2h0m-1.9,10.5h0m-3.4,-13.8h0m-5.5,11.2h0m10.7,1.8h0m-8.8,-10.1h0m9,9.2h0m-7.2,-11.4h0m-4.1,4.4h0m-0.1,0.2h0m12.1,0.1h0m-2.9,-4.6h0m2.1,2.7h0m-11.5,2.1h0m12.3,0.1h0m-9.8,-2.7h0m0,10.7h0m9.8,-8.1h0m-9.7,7.9h0m8.9,-10.5h0m0.4,6.8h0m0.5,-4h0m-11.2,-1.9h0m10.6,7.6h0m0.1,-1.8h0m-4.2,-9.7h0m13.1,10.6h0m0.9,-7.6h0m12.3,7.5h0m-8.8,-9.8h0m-2.6,11.4h0m2.4,0.8h0m-4.5,-2.6h0m-0.3,-0.2h0m-0.3,-5.1h0m0.7,5.5h0m12,2.2h0m-8.2,0.1h0m-5.3,-5.7h0m5.4,5.6h0m8,-7.3h0m0.4,1.4h0m-0.6,-2.8h0m-9.8,-2.3h0m7,0.4h0m1,0.3h0m1.7,10.3h0m-5.8,-12h0m6.3,5.6h0m0.2,-0.3h0m-11.8,5h0m4,1.8h0m-4.8,-8.1h0m3.6,-3.7h0m0.9,-0.3h0m-5.1,8.2h0m25.8,-8h0m-3.6,2.5h0m6.9,-1.6h0m-8.6,4.9h0m7.8,6h0m-6.5,-8.5h0m3.5,9.4h0m-3.6,-9.5h0m4,-3.2h0m-3.7,11.7h0m6.1,-11.2h0m-1.5,11.9h0m7.5,-7.5h0m-8.6,7.8h0m8.5,-8.8h0m-12.2,-0.9h0m5.2,9.3h0m1.6,-11.8h0m-2.4,12h0m-6,-4.7h0m1.4,-4.5h0m-1.2,2.9h0m13.7,1.1h0m-6.3,4.6h0m1.6,-11.1h0m4.7,3.9h0m-0.2,1.5h0m-1,3.8h0m-3.1,-9.1h0m4.3,6.9h0m-12.2,-5.1h0m21.2,-1.1h0m5.9,10h0m3.8,-9.4h0m-12.1,1.3h0m2.7,-2.3h0m9.9,1.4h0m1.3,3h0m-7.7,5.9h0m4.2,-10.2h0m4,6.1h0m-5.6,4.2h0m1.3,0h0m-1.6,-11h0m-5.1,10.4h0m8.7,-9.1h0m-10.3,8.3h0m4.9,1.2h0m-1.7,-0.1h0m5.6,-9.8h0m-11.8,5.6h0m3.7,-5.9h0m2.5,-1.1h0m0,-0.1h0m29.2,6h0m-0.3,-3.5h0m-13.6,1h0m-1,1.6h0m3.3,6.4h0m9.1,-10h0m1,7.4h0m1.9,-4.8h0m-16,3h0m15.2,-4.7h0m-14.2,2h0m-0.6,0.7h0m8.9,6.8h0m6.3,-6.2h0m-15.1,-0.9h0m8.1,7h0m0.8,-0.2h0m-3.1,-9.8h0m-1.9,9.8h0m11,-4.2h0m-2.2,-5.9h0m2.6,1.9h0m-2,-1.8h0m0.8,0.5h0m-14.3,6.1h0m11.1,2.3h0m-4.4,1.6h0m6,-10.6h0m-11.9,2.5h0m14.1,3.8h0m-15.2,-0.2h0m0.7,-2.4h0" stroke="#f3766e" stroke-opacity="0.62"/>
<path d="M53.4,53.1h3.1V170.9h-3.1ZM56.5,76.8h2.5V136.7h-2.5ZM58.8,81.8h2.9V129.7h-2.9ZM61.5,85.8h2.7V120.7h-2.7ZM64.4,91.6h3.6V117.8h-3.6ZM68.2,93.3h4.7V118.2h-4.7ZM81.4,104.6L81.3,107.1L81.1,109.4L80.9,111.8L80.5,114.0L80.0,115.9L79.4,116.7L78.8,116.6L78.2,116.1L77.6,115.4L77.0,114.4L76.5,112.6L76.2,110.0L76.2,107.2L76.2,104.6L76.2,102.1L76.3,99.5L76.6,97.1L77.1,95.5L77.7,94.8L78.2,94.3L78.8,93.6L79.4,92.9L80.1,93.0L80.7,94.4L81.1,96.7L81.3,99.4L81.4,102.1ZM89.8,104.6L89.6,107.1L89.3,109.3L89.0,111.4L88.6,113.3L88.1,114.7L87.4,115.3L86.8,115.2L86.2,114.8L85.6,114.4L85.0,113.5L84.4,111.9L84.2,109.5L84.0,107.0L84.0,104.6L83.9,102.2L84.0,99.6L84.3,97.2L84.9,95.9L85.6,95.5L86.2,95.4L86.8,95.2L87.4,94.9L88.1,95.0L88.7,95.9L89.2,97.5L89.5,99.7L89.7,102.1ZM97.9,104.6L97.9,106.8L97.8,109.1L97.4,111.0L96.9,112.5L96.3,113.6L95.7,114.2L95.0,114.4L94.4,114.0L93.7,113.2L93.2,112.2L92.6,110.9L92.2,109.1L92.0,106.9L91.9,104.6L92.0,102.6L92.2,100.7L92.5,98.8L93.0,97.5L93.7,97.0L94.4,97.1L95.0,97.2L95.6,96.9L96.3,96.7L97.0,97.2L97.6,98.7L97.8,100.7L97.9,102.7ZM107.2,104.6L107.2,106.6L107.0,108.6L106.6,110.5L106.1,112.1L105.3,113.1L104.4,113.2L103.6,112.7L102.9,112.2L102.2,111.8L101.4,111.4L100.7,110.3L100.2,108.6L100.0,106.6L100.0,104.6L100.0,102.5L100.1,100.4L100.6,98.6L101.3,97.4L102.1,96.9L102.9,96.6L103.6,96.2L104.4,95.9L105.2,96.3L105.9,97.4L106.4,99.0L106.8,100.8L107.0,102.7ZM123.9,104.6L124.1,106.3L123.8,108.0L123.2,109.4L122.5,110.4L121.7,111.3L120.9,112.1L120.0,112.4L119.1,112.2L118.2,111.7L117.3,111.0L116.4,110.0L115.8,108.4L115.7,106.4L116.1,104.6L116.5,103.0L116.8,101.6L117.0,99.9L117.5,98.3L118.2,97.1L119.1,96.4L120.0,96.0L121.0,95.8L122.0,96.1L122.9,97.4L123.3,99.4L123.4,101.3L123.6,103.0ZM139.7,104.6L139.5,106.2L139.4,107.9L139.3,109.9L138.8,111.8L137.9,113.0L136.7,113.1L135.7,112.8L134.7,112.5L133.7,112.3L132.7,111.6L132.0,110.1L131.6,108.2L131.5,106.4L131.4,104.6L131.4,103.1L131.7,101.6L132.4,100.5L133.2,99.7L133.9,98.7L134.7,97.6L135.7,96.7L136.8,96.7L137.9,97.5L138.7,98.8L139.2,100.2L139.7,101.6L139.8,103.1ZM161.0,104.6L161.0,106.2L160.8,107.8L160.4,109.5L159.7,111.0L158.7,111.9L157.4,111.8L156.3,111.1L155.4,110.4L154.5,110.1L153.5,109.8L152.6,109.0L152.0,107.7L151.7,106.2L151.5,104.6L151.4,103.2L151.6,101.8L152.3,100.6L153.3,99.9L154.3,99.4L155.3,99.0L156.3,98.5L157.4,98.5L158.4,99.1L159.1,100.2L159.6,101.3L160.2,102.3L160.7,103.4ZM181.1,104.6L181.1,105.7L181.3,107.1L181.2,108.6L180.5,110.0L179.3,110.6L178.0,110.6L176.8,110.5L175.6,110.4L174.5,110.1L173.5,109.3L172.9,108.2L172.4,107.0L172.0,105.9L171.7,104.6L171.7,103.4L172.2,102.3L173.0,101.5L173.8,100.7L174.6,99.8L175.6,99.0L176.8,98.7L178.1,98.9L179.2,99.5L180.1,100.3L180.9,101.2L181.3,102.4L181.3,103.5ZM203.0,104.6L202.8,105.9L202.1,106.9L201.1,107.7L200.2,108.3L199.4,109.0L198.4,109.6L197.2,109.8L196.0,109.6L195.0,109.1L194.1,108.5L193.1,107.8L192.3,106.9L192.0,105.8L192.0,104.6L192.0,103.5L192.1,102.3L192.5,101.1L193.5,100.3L194.9,100.1L196.2,100.4L197.2,100.5L198.2,100.5L199.4,100.4L200.5,100.7L201.5,101.4L202.2,102.4L202.7,103.4ZM223.5,104.6L223.2,105.7L222.7,106.7L222.0,107.5L221.2,108.4L220.2,109.1L219.0,109.4L217.7,109.2L216.6,108.7L215.6,108.4L214.3,108.2L213.1,107.8L212.1,106.9L211.8,105.8L211.7,104.6L211.9,103.5L212.2,102.5L213.1,101.6L214.4,101.2L215.6,101.1L216.7,100.9L217.7,100.5L219.0,100.1L220.3,100.2L221.5,100.7L222.3,101.6L222.9,102.6L223.3,103.5ZM244.7,104.6L244.2,105.7L243.4,106.7L242.5,107.5L241.6,108.2L240.4,108.7L239.2,108.9L238.0,108.9L236.8,108.9L235.4,108.9L234.1,108.6L233.1,107.8L232.7,106.7L232.6,105.6L232.4,104.6L232.1,103.5L232.2,102.3L232.9,101.3L234.2,100.7L235.5,100.4L236.8,100.2L238.0,100.2L239.2,100.3L240.3,100.8L241.3,101.3L242.4,101.7L243.6,102.4L244.6,103.4ZM263.8,104.6L263.7,105.5L263.7,106.4L263.5,107.5L262.8,108.6L261.3,109.1L259.7,109.1L258.2,108.8L256.9,108.6L255.7,108.3L254.6,107.8L253.8,107.0L253.2,106.3L252.5,105.5L251.8,104.6L251.5,103.6L251.9,102.5L253.0,101.8L254.3,101.3L255.6,100.9L256.8,100.5L258.2,100.3L259.6,100.4L260.8,100.9L261.9,101.4L263.0,102.0L263.7,102.8L264.0,103.7ZM285.8,104.6L285.8,105.6L284.9,106.4L283.6,107.0L282.3,107.4L281.2,107.8L280.1,108.2L278.8,108.5L277.4,108.6L275.9,108.4L274.4,108.1L273.0,107.5L272.2,106.6L272.1,105.6L272.7,104.6L273.2,103.7L273.5,102.8L273.8,101.8L274.6,101.0L276.0,100.5L277.4,100.4L278.8,100.4L280.2,100.3L281.7,100.5L283.0,100.9L284.0,101.7L284.7,102.6L285.3,103.6ZM305.2,104.6L305.1,105.7L304.3,106.6L303.2,107.3L302.2,107.9L301.2,108.7L300.0,109.4L298.4,109.8L296.7,109.8L295.2,109.3L293.9,108.6L292.8,107.7L292.3,106.7L292.3,105.6L292.7,104.6L292.9,103.9L292.8,103.0L292.8,102.1L293.7,101.2L295.2,100.8L296.8,100.7L298.4,100.8L299.9,100.8L301.5,100.9L302.9,101.4L303.8,102.1L304.4,103.0L304.8,103.8Z" fill="#6c91d0" stroke="none"/>
<path d="M55.3,54.2h0m-0.9,-2.1h0m0.7,0.6h0m-0.5,-0.9h0m-0.3,1.3h0m0.6,0.4h0m0.4,-0.4h0m-1,-0.9h0m0.9,0.4h0m-0.6,-1.1h0m1,2h0m-1.3,-0.5h0m0.6,-1.6h0m-0.4,-0.4h0m0.8,1.2h0m-0.6,-1.3h0m-0.1,2.6h0m0.8,-0.3h0m0.2,-1h0m-1.1,1.3h0m0.4,-2h0m0.7,2.5h0m-0.8,-0.4h0m0.9,0.4h0m-1.4,0.5h0m1.2,-3.3h0m-0.8,2.5h0m0.9,-2.5h0m-1.3,0.3h0m0.5,1.3h0m-0.1,1h0m-0.4,-0.6h0m0.3,119.2h0m0.8,3.1h0m-0.5,-5.8h0m0,2.8h0m0.7,-1.4h0m-1.3,1.7h0m1.1,2.4h0m-1.1,-5.6h0m0.3,5.5h0m1,-2.9h0m-0.5,-0.5h0m0.2,0.4h0m-0.7,-3h0m-0.3,2.3h0m1.3,1.2h0m-1,0.3h0m-0.1,2.5h0m0.8,0.2h0m0.1,-1.5h0m-0.7,-2h0m0.1,3.2h0m-0.4,-4.2h0m0.9,0.4h0m-1,-1.9h0m0.8,2.5h0m0.6,-0.4h0m-1.3,-1.5h0m0.6,4.6h0m-0.1,-3.4h0m0,2.8h0m0.3,0.9h0m0.3,-0.6h0m-1.1,1.2h0m0.3,-1.8h0m0.1,1.1h0m-0.3,-3.5h0m0.1,-0.8h0m3.5,-94.8h0m-0.5,0.7h0m0.5,-0.4h0m-0.6,-1.2h0m-0.1,1.3h0m0.6,-1.4h0m0.1,3.4h0m-0.5,-0.4h0m0.1,-0.7h0m-0.3,-1.4h0m0.4,1.6h0m-0.2,0.4h0m-0.1,-0.6h0m0.3,-1.6h0m-0.3,2.9h0m0.1,-3h0m-0.1,1.5h0m0,-1.9h0m0.3,3.1h0m-0.4,-1.6h0m0.4,-1h0m-0.4,2h0m0.5,-1.1h0m-0.3,0.5h0m0.5,0h0m-0.3,-0.2h0m0.3,-0.1h0m-0.6,-1.4h0m0,3.3h0m0.6,-2.1h0m-0.1,0.1h0m0.1,-0.3h0m-0.6,2.2h0m0.3,-2.9h0m0.3,59.9h0m-0.3,1.5h0m0,-1.2h0m-0.2,1.9h0m0.5,-2.1h0m-0.4,3.3h0m0.4,-2.8h0m0,1.4h0m-0.3,1.5h0m-0.3,-0.2h0m0,-1.6h0m0.5,1.8h0m-0.5,-2.8h0m0.2,1.5h0m0,-2h0m-0.2,2.8h0m0.6,-3.3h0m-0.3,3.5h0m-0.4,0.3h0m0,-1h0m0.4,0.1h0m-0.2,-0.9h0m0.2,0h0m0.1,0.1h0m-0.2,-2.3h0m0.1,2.5h0m-0.3,1.2h0m0.5,-1.3h0m-0.5,0.1h0m-0.1,-1.8h0m0.3,-0.2h0m0,2.1h0m-0.3,0.6h0m0,0.4h0m0.6,-1h0m-0.6,0h0m0.7,1h0m-0.1,-2.5h0m0.1,1.4h0m1.7,-57.4h0m1,3.1h0m-0.7,-3h0m-0.1,-0.2h0m-0.2,1.2h0m1,1.2h0m-0.8,-1.2h0m0,2.1h0m-0.1,-0.6h0m0.9,-2.2h0m-0.1,2.1h0m-0.1,0.3h0m-0.3,-2.2h0m0,0.2h0m0.4,2h0m0.1,-2.2h0m-0.7,-0.6h0m0.2,1.7h0m0.3,-0.4h0m-0.7,-1.1h0m-0.2,-0.3h0m0.3,0.6h0m0.8,0.2h0m-0.4,1.2h0m-0.7,1.4h0m0.1,-2.7h0m0.4,0.4h0m0.5,1.7h0m-0.8,-2.2h0m-0.2,3h0m0.4,-0.7h0m0,-0.6h0m0.3,-1.5h0m-0.5,-0.1h0m0.3,2.1h0m0.6,-0.5h0m-1,0.7h0m0.8,47.1h0m-0.6,-2.2h0m0.4,3h0m-0.3,0.3h0m0.4,-1.8h0m0.2,-1.2h0m-0.4,2h0m-0.4,-1.9h0m0.7,-0.4h0m-0.8,1.2h0m0.6,1.5h0m0,1.3h0m-0.5,-2.2h0m0.1,-1.5h0m0.7,3.6h0m-0.2,-3.9h0m0.2,3.7h0m-0.5,0h0m0,-2.3h0m-0.4,0h0m-0.1,0.5h0m0.8,1.6h0m0.2,0.1h0m-0.7,-0.7h0m0.2,1h0m0.1,-2.3h0m-0.6,0h0m0.2,2.1h0m0.9,0h0m-0.8,-2.3h0m0.7,1.9h0m-0.2,0.1h0m0.3,-0.9h0m-0.1,1h0m0,-1.1h0m-0.2,0.6h0m-0.5,-1.7h0m0.4,-0.8h0m0.3,0.4h0m1.7,-41.9h0m0.8,-1.1h0m-0.7,1.6h0m-0.1,-3h0m0.6,0h0m0,2.8h0m-0.1,-1.5h0m0.2,-1.7h0m0.1,3.2h0m0,-0.3h0m-0.7,0h0m-0.1,-3h0m0.7,0.8h0m0,0h0m-0.5,2.3h0m-0.2,-2.8h0m0.1,1.7h0m0.3,1.6h0m-0.2,-1.4h0m0.4,-0.4h0m-0.1,1.7h0m-0.2,-2h0m0.4,0.4h0m-0.1,-0.8h0m-0.6,-1h0m0.1,3.6h0m0,-3.4h0m0.8,3.4h0m-0.5,-2.4h0m0.3,1.3h0m-0.3,-0.7h0m0.3,0.4h0m0.1,-0.1h0m-0.6,-1.7h0m0.2,2.5h0m0.2,0.2h0m0.1,35.3h0m0,-0.3h0m-0.4,-1h0m-0.3,-0.9h0m0.4,0.8h0m0.4,-0.7h0m-0.4,1.4h0m0.3,1h0m-0.1,-1.8h0m-0.3,-1h0m0.5,2.4h0m-0.1,-2.3h0m-0.3,2.7h0m0.1,-3h0m-0.3,0.4h0m0,2.4h0m0.6,-2.6h0m-0.7,0.5h0m0.2,1.3h0m-0.2,-0.9h0m0.5,-1.2h0m0.3,0h0m-0.2,3h0m-0.3,-2.5h0m0.2,-0.5h0m-0.5,1.5h0m-0.1,0h0m0.7,1.3h0m-0.3,-0.2h0m0,-2.4h0m0.1,1.4h0m-0.1,0.7h0m0.3,-0.7h0m-0.5,1.3h0m0.6,0.3h0m-0.2,-0.6h0m-0.2,-1.5h0m3.6,-27.9h0m-0.4,-2.9h0m0.6,0.6h0m-0.9,0.8h0m0.4,-0.8h0m-0.1,-0.2h0m1,2h0m-0.5,-2.4h0m-0.5,1.1h0m1.1,2.1h0m-0.8,-0.6h0m-0.1,0.3h0m0.1,-2h0m0.3,0.1h0m-0.1,-1.2h0m-0.3,1.6h0m0.9,0.9h0m-0.5,-0.8h0m0.1,1.2h0m0.4,-1h0m-1.7,0.3h0m0.6,1.4h0m0,-2h0m0.6,0.3h0m-0.8,0.5h0m0.5,0.1h0m0.5,-0.8h0m-1.1,1.2h0m1,-2.8h0m-0.2,1.3h0m-0.2,1h0m0.8,-0.5h0m-0.6,-1.8h0m0.3,1.3h0m-1,-0.3h0m-0.3,-1.1h0m0.3,1.8h0m-0.1,26.9h0m-0.1,-2.5h0m1,1.8h0m-0.9,0.1h0m0.5,0.6h0m0.3,1h0m0.4,-3h0m-0.2,0.5h0m0.1,2.4h0m-1.5,-3.3h0m1.8,3.4h0m-1.4,-2.7h0m-0.2,0.7h0m1.2,0.6h0m0.1,-0.9h0m0.1,2.1h0m-0.2,0.2h0m0.2,0.5h0m-0.1,-2.7h0m-0.2,1.6h0m0.1,-0.4h0m0.2,0.5h0m-1.1,-1.5h0m-0.3,1.3h0m-0.1,-0.2h0m0.1,0.1h0m0.7,0.3h0m0.7,-2.9h0m-0.1,2.5h0m-0.5,0.9h0m0.5,-1.3h0m-1.4,1.2h0m1.1,-3.1h0m-0.1,3.3h0m0.6,-1.6h0m0.1,0.8h0m-1.8,0.9h0m1.1,-1.7h0m0.5,0.2h0m-0.7,0.7h0m5.2,-24.9h0m-1,-0.9h0m0.3,-1.5h0m-0.7,0h0m0.3,1.2h0m-0.4,0h0m2.1,-0.6h0m-0.6,1.3h0m-1.4,0.1h0m0.8,-1.3h0m0.6,2.6h0m-0.7,0h0m-0.7,0.3h0m0.9,-3h0m0,0.1h0m0,-0.3h0m0,0.1h0m-1.2,0h0m0.8,-0.3h0m-1.1,2.4h0m-0.2,-2.5h0m2.6,0.5h0m-1.6,-0.6h0m1.2,0.9h0m-1.5,1.1h0m0.4,-0.1h0m0.1,-1.3h0m1.5,2.6h0m-1.1,0.1h0m-1.3,-3.3h0m0.9,3.5h0m-0.2,-2.7h0m0.3,0.7h0m-1.1,-0.9h0m0.3,2.1h0m-0.6,22.2h0m2,0.8h0m0.9,-0.2h0m-0.3,0.2h0m-2.5,2.8h0m0.6,0.1h0m-0.1,-3.4h0m1.7,3.3h0m0.2,0.1h0m-2.3,-0.5h0m1.9,-0.7h0m0.7,-1h0m0,2.1h0m-2.8,-3.5h0m1.9,3.9h0m-1.7,-2.2h0m2,-0.7h0m0.3,1.5h0m-2.3,-0.5h0m1.5,0.3h0m0.3,-1.5h0m0.4,1.2h0m-0.5,1.2h0m-0.7,-1.1h0m1.1,0.8h0m-1.4,-2.6h0m2,3.2h0m-0.5,-1.7h0m0.1,1.2h0m-1.6,-0.7h0m1.7,-0.3h0m-0.6,1h0m0.6,0.9h0m-1.8,-4.1h0m0,2.4h0m0.9,1.7h0m0.9,-3.7h0m-0.1,3.7h0m0.1,-1h0m-0.2,0.5h0m0.3,-1.5h0m-2.4,0.9h0m8.9,-24.8h0m-1.8,6.6h0m0.1,5.6h0m2.3,9.1h0m-2.3,-12h0m0.3,-4.7h0m0.2,16.8h0m1.9,1.1h0m-2.3,-11.8h0m4.2,-1.4h0m-1.8,-9.6h0m2,15.6h0m-4.4,-1.1h0m0.2,4h0m1.7,-17.7h0m0.1,-0.2h0m-1.1,19.7h0m0.1,-20h0m2.9,-1.8h0m-4.3,10.6h0m2.4,-10.5h0m-2.4,13.8h0m4.4,7.7h0m0.6,-9.4h0m-4.6,-6.4h0m4.4,3.4h0m-4.7,9.6h0m4.3,-16.5h0m-3.7,18.2h0m-0.7,-5.2h0m1.9,7.6h0m-1.6,-14.8h0m1,15.7h0m2.8,-22.5h0m-3.7,14.4h0m1.4,6.4h0m-1.5,-15.7h0m1,17.7h0m1.9,-0.5h0m1.2,-17.6h0m0.3,9.2h0m-1.8,-14.9h0m1.9,11.5h0m-4.7,-1.2h0m0.5,9.1h0m-0.1,-14.2h0m4.4,2.5h0m-4.4,2.3h0m0.3,10.3h0m-0.6,-13.1h0m0.1,5.3h0m0.8,9.4h0m2.4,-21h0m0.2,-0.8h0m-2.1,0.3h0m-1.1,16.7h0m1.4,5.9h0m-1.5,-11.7h0m3.2,12.2h0m-3,-18.8h0m4.3,6.5h0m-0.3,3.2h0m-1.5,-13.8h0m-1.3,2.1h0m-0.2,21.5h0m-1.3,-19.1h0m3,18.3h0m-2.9,-15.3h0m0.6,-5.8h0m3.8,9.1h0m-4.3,6.3h0m3.5,5.1h0m0.1,-4.8h0m-0.4,4.6h0m0,-23h0m-0.4,1.4h0m1.7,11.6h0m-3.7,10.6h0m-0.2,-2.6h0m1.2,1.7h0m2.4,-17.9h0m-3.6,17.1h0m-0.3,-2.3h0m3.8,-15.9h0m0.1,5.5h0m-3.9,-4.8h0m3.3,-2.2h0m0.7,1.5h0m-3.1,19.8h0m3.1,-14.3h0m-0.2,-0.5h0m-4.2,12.1h0m2.5,2.7h0m1.5,-20.6h0m-1.3,-1.8h0m0.5,21.5h0m-1.7,1h0m2.4,-3.9h0m-3.7,0.5h0m3.8,-4.2h0m-0.7,-15h0m-1.1,22.1h0m-0.6,-0.4h0m2.8,-8.2h0m-3.5,6.9h0m0.7,-18.6h0m0.2,22.5h0m1.9,-5h0m0,-20.8h0m-0.3,22.4h0m-1.7,-19.9h0m2.5,7.3h0m0.2,-0.8h0m-2,15.5h0m1.4,-2.7h0m-3.7,-15.3h0m2.1,18.5h0m0.6,1.4h0m1,-5.7h0m-3.8,-11h0m2.4,-8.2h0m-1.6,1.3h0m0.4,20.3h0m2.7,-5.3h0m-0.3,-15.3h0m-2.6,1.4h0m-1,4.4h0m0,4.2h0m4,4.2h0m-1.6,6.9h0m-0.7,-20.8h0m2,0.6h0m-2,19.6h0m-0.6,-20.9h0m-0.4,20.1h0m0,-19.9h0m1.4,23.9h0m-1.6,-3.3h0m2.6,-0.1h0m1.3,-17.2h0m-2.8,-2.3h0m2.5,11.7h0m-1.2,8.7h0m-2.5,-3.4h0m7.2,-12.7h0m5,7.3h0m-2.2,-13.3h0m0.1,0.9h0m-2.1,1.9h0m1.2,19.4h0m-0.4,-19.8h0m1.1,-1.8h0m-2.8,9.7h0m1,9.8h0m-0.4,-3.4h0m0.7,3.1h0m3.9,-9.7h0m-4.3,8.7h0m1.9,2.2h0m1.3,-2.7h0m0.3,-15.4h0m-4.3,11.8h0m1.8,5.3h0m2.8,-5h0m-3.1,6.6h0m-1.2,-16h0m3.3,15.7h0m1.4,-11.2h0m-2.2,-8.5h0m1.3,1.9h0m-2,16.9h0m2.7,-8h0m-2.6,9.6h0m0.8,-0.8h0m0.3,0.6h0m1.1,-19.7h0m-1,20.2h0m1.8,-14.1h0m-0.3,8.4h0m-0.6,-13.2h0m-0.3,15.2h0m-4.4,-10.6h0m3.5,13h0m-0.6,-19.9h0m-2.3,16.7h0m1.1,1.6h0m-0.8,-3.2h0m0.2,-13.1h0m-0.7,8.2h0m2.4,9.9h0m2.5,-6.4h0m-2.7,-12.5h0m2.2,14h0m-0.1,4.1h0m0.5,-3.1h0m-4.7,-1.1h0m-0.1,-11.6h0m1,-2.9h0m0.2,19.6h0m1.2,0.8h0m0.3,-21.6h0m-1.2,21.3h0m3.6,-12.4h0m-3,11.8h0m2.7,-14h0m0.3,4.3h0m-4.2,-10.4h0m2,21.5h0m1.5,-6.5h0m-0.4,2.2h0m-4,-7.5h0m0.9,7.9h0m2.8,3.1h0m1,-15.8h0m0.6,7.1h0m-5.4,-2.1h0m1,10.2h0m-0.7,-7.7h0m4.3,-8.4h0m-2.2,-2.4h0m-1.4,-0.3h0m3.2,0.9h0m-4.1,3.2h0m0.7,-3.2h0m1.8,17.4h0m-2.2,-5.6h0m3,7.4h0m-2.4,-19.8h0m4,7.8h0m-4.7,-4.1h0m4.3,-5.2h0m-2.3,21h0m1.4,-20.3h0m-2.3,18.5h0m3.1,-16h0m-2.9,-2.8h0m-1.5,12.6h0m4.3,-10.3h0m0.1,-0.2h0m-1.4,-3.8h0m0.7,22.6h0m1.3,-11.9h0m-0.2,1.8h0m0.1,-3.1h0m-0.3,-3.8h0m-2.3,-2.9h0m1.5,18.7h0m0.7,-4.9h0m0.6,-11.5h0m-0.3,8.1h0m-1.6,-12.4h0m1.8,12.9h0m-2.2,7.8h0m1.5,-4.5h0m0.7,-6.5h0m-0.7,-6.4h0m-4,7.8h0m0.1,3.7h0m1.3,-12.7h0m0.6,-1h0m2,15.9h0m-3.2,1.7h0m1.2,-17h0m1.3,18h0m0.9,-5.3h0m-4.4,-4.7h0m0,-3.2h0m5.2,4.6h0m-4.3,-9.8h0m-1.2,5.4h0m5.7,2.2h0m-3.4,-7.4h0m-0.6,18.3h0m3.5,-11.3h0m-4.5,9.2h0m4.7,-7h0m-0.4,-5.1h0m-4.4,-2.6h0m2.2,17h0m2,-1.5h0m0.5,-4.6h0m-3.8,6.6h0m-1.2,-13.4h0m4.8,1.4h0m-2.5,-8.7h0m-2.5,9.8h0m5,0.4h0m-4.5,-8.8h0m13,11.8h0m-3.7,-11.1h0m-0.6,17.3h0m-0.7,-3.7h0m4.5,-0.2h0m-2.4,-12.7h0m1.7,15.5h0m0.1,-0.6h0m-1.1,1.9h0m0.1,-16.6h0m-3.6,7.7h0m5.7,-5.7h0m-4.4,-0.8h0m-0.6,-1h0m2.8,0.5h0m-1,-0.2h0m-0.9,-1.1h0m3.4,16.6h0m-2.1,-16.7h0m0.9,0.3h0m-3.7,12.5h0m3.5,-13.2h0m-0.1,1.6h0m0.9,-0.1h0m-0.6,16.3h0m-0.6,0.5h0m2.4,-15.1h0m-3.2,-1.7h0m1.2,-1.2h0m0.6,0.8h0m1.3,13.1h0m-1.1,-12.9h0m-4.1,1.5h0m3.3,-1h0m-3.1,7.4h0m4.9,6.7h0m-4.9,-2.1h0m-0.1,-2.6h0m3.2,6.5h0m1.1,-17h0m-2.3,16.2h0m0.2,1.9h0m-2.4,-6.3h0m3.6,-10.9h0m-1.7,0.3h0m2,-0.4h0m-2.7,13.9h0m4,-13h0m-0.2,0.6h0m-1.1,15.9h0m0.3,-1.8h0m1,-8.5h0m0.1,-2.9h0m-1.6,-4.3h0m-2.3,14.1h0m-1.6,-10.2h0m0.4,2.6h0m1.4,-6h0m-0.8,0.4h0m4.5,4.2h0m-4,-5.6h0m-0.4,14.6h0m-0.7,-6.8h0m4.9,-1.2h0m-0.8,-7.1h0m-4.1,5.1h0m2.3,-4.9h0m2.8,10.1h0m-0.4,-7.5h0m-4.6,0.5h0m5,7.7h0m-2.5,-10.4h0m-0.5,17.9h0m-0.2,-0.9h0m-1.2,-17.4h0m0.8,0.8h0m3.9,5.1h0m-3.7,-4.9h0m2.3,15.7h0m0,-17.3h0m-2.7,15.7h0m-1.8,-8.1h0m4.6,10.2h0m-0.3,-1h0m1.2,-5.1h0m0,-4.9h0m-1.6,10.6h0m-3.1,-5.3h0m2.1,5.8h0m-0.1,-0.5h0m2.7,-13.7h0m-0.9,-3.1h0m-1.1,0.9h0m1.3,16.1h0m-4.5,-7h0m1.4,-10.1h0m1,17.2h0m2.9,-13.6h0m-3.1,14.2h0m0.4,0.9h0m3.1,-7.7h0m-5.4,-6.4h0m4.9,0.5h0m-2.3,11.7h0m-3,-11.6h0m1.8,-4.4h0m1.9,0.3h0m-1.7,16.3h0m3.6,-11.1h0m-3.7,-6.4h0m0.9,1.3h0m-2.2,13.8h0m0.9,0.2h0m3.5,-14h0m-5,5.7h0m5.1,-3.7h0m-3.4,12.2h0m-1.1,-2h0m4.2,-13.2h0m-4.3,3.8h0m0,0.4h0m4.2,-4.7h0m-0.4,1.4h0m-2.8,-1.1h0m4,2.1h0m-1.4,-2.2h0m0.8,2.3h0m-2.7,-2.1h0m-1.4,2.4h0m4.7,9.9h0m-1.4,-11.6h0m-0.6,16.1h0m1.8,-2.7h0m0.5,-7.6h0m-4.7,9.4h0m4.6,-2.8h0m-3.8,2.5h0m-0.8,-13.6h0m1.4,14.5h0m-2.3,-5h0m3.5,-10.4h0m5.6,13.4h0m4.7,-0.9h0m-1.6,-13.6h0m-3.6,14.7h0m3.2,1h0m0.1,0.4h0m-2.9,-1.3h0m-1.5,-5h0m7.2,1.1h0m-1.8,-10.2h0m1.6,8.9h0m-0.6,4.6h0m-3.3,-13.3h0m3.3,13.4h0m-1.1,1.4h0m-4.4,-4.7h0m5.9,0.6h0m-6,-6.4h0m3.6,11.9h0m-4.3,-13.3h0m7.3,1.9h0m-6.7,1h0m5.1,10.7h0m-1.3,-1.7h0m-4.3,-5.4h0m6.6,1.7h0m-4.1,2.5h0m-0.5,-13.6h0m-1.4,8h0m6.4,-0.3h0m-6.4,-1.3h0m-0.6,2.5h0m0.5,-3.8h0m-0.3,2.1h0m1.6,-6.7h0m1.6,-2.7h0m1.6,17.1h0m1.4,-3.7h0m0.4,-2.2h0m-1.1,4.9h0m-2.1,-15.3h0m2.9,5.4h0m-4.1,-3.7h0m4,4.3h0m-6.1,3.8h0m6.3,-4h0m0.4,2.2h0m-2.6,10h0m-3.8,-7.3h0m6,-4.2h0m-5.8,6.8h0m1.4,-11.5h0m-0.8,12.4h0m3.6,-13h0m-4,1.7h0m-0.7,8.2h0m2.6,-9.8h0m0.9,14.6h0m2.6,-9.3h0m-0.4,9.2h0m0.6,-4.4h0m-1.2,5.5h0m-5,-5.9h0m5.9,-8.6h0m-5.3,10.6h0m5.1,-8.5h0m0.6,4.9h0m-0.8,-7.3h0m-6.1,4.5h0m5.1,-7h0m-4.3,8.3h0m3.1,9.1h0m-3.5,-14h0m4.5,13.2h0m1.6,-13.1h0m-1.1,14.4h0m-1.7,-1.7h0m-2.1,-0.8h0m0.9,-13.4h0m1.1,-1.6h0m-3.3,10.1h0m4.4,-9.2h0m-4.4,9h0m2.7,-9.7h0m1.5,0.4h0m0.2,16.2h0m-0.5,0.6h0m-2.6,-1.9h0m2.5,-14.7h0m0.2,15.4h0m-0.8,-0.8h0m2.6,0.1h0m-5.1,-3.1h0m-0.2,-8.2h0m2.2,-3.4h0m2.4,16h0m1.9,-7.3h0m-1.7,6.7h0m1.6,-9.9h0m-1.6,-6.1h0m-4.3,0.8h0m5.4,5.8h0m-2.6,-6.3h0m-0.4,16.8h0m-3.2,-15.3h0m5.8,0h0m-1.5,14.2h0m-4.6,-9.8h0m3.2,8.9h0m3.4,-6.6h0m-3.9,-7.1h0m1.3,14.6h0m2.6,-6.8h0m-0.9,6.4h0m-5.3,-8.5h0m0.2,5.7h0m2.9,2.5h0m2.9,-2.8h0m0.3,1h0m-4,-12.4h0m1.8,-2.1h0m-2.6,16.1h0m-1.2,-9.9h0m5.1,11.5h0m-5,-2h0m3.3,2.8h0m0.5,-16.9h0m-3.8,3.1h0m1.9,-4.1h0m1.7,0.8h0m2.3,13.3h0m-6.1,-8.8h0m4.3,12.2h0m1.6,-2.7h0m-2.7,1.4h0m-3.3,-3.2h0m2.7,-11.5h0m0,-0.2h0m-0.4,15.1h0m-0.4,-15.7h0m3.7,3.3h0m-3.7,12.3h0m1,-0.5h0m0.7,2.1h0m1.2,-18h0m1.8,6.3h0m-4.5,9.3h0m0.5,-14h0m-2,1.7h0m5.7,8.2h0m-0.8,-8.9h0m-1.4,13.9h0m18.8,-5.3h0m0.6,-1.3h0m-6.3,-6.2h0m4.1,10.7h0m-4.7,-10.6h0m6.1,3.7h0m0.2,0.4h0m-6.5,5.9h0m7,-5.3h0m-2.4,6.2h0m0.5,-0.3h0m-2.3,-13.1h0m-3.1,6.1h0m7.1,3h0m-2.6,-10.6h0m-3.7,4.9h0m-0.1,1.8h0m4.3,8.5h0m-2.9,-13.1h0m2.9,-2.7h0m-4.7,9h0m4.4,-7.9h0m-3.2,1.2h0m1.4,-0.7h0m3.8,4.7h0m-4.8,10.1h0m2.8,-16.5h0m-2.7,2.5h0m1.6,-0.8h0m-2.7,3.7h0m5.2,-2.7h0m-2.5,-0.8h0m0.1,-1h0m2.9,4.4h0m0.5,8.8h0m-0.8,-0.1h0m0.4,1.3h0m-7.7,-2.3h0m4.2,5h0m-1.8,-14.1h0m-2,6.1h0m4.9,7.4h0m-1.6,-0.5h0m4.2,-7.3h0m-6.7,-3.2h0m3.4,-5.1h0m2.5,1.9h0m0.5,4.3h0m-0.2,7.7h0m-0.6,0.6h0m-5.8,-8h0m6,7.5h0m-5.4,-0.2h0m4.4,-13.1h0m-5.1,8.7h0m7.2,0.6h0m-8,0.1h0m3.8,-9.5h0m3.4,5h0m-0.2,8.9h0m-0.2,-1.5h0m-5.9,-4.6h0m-1,1.4h0m5,-10.4h0m-4.2,7.4h0m-0.1,4.3h0m7.2,-7.1h0m-5.3,-3.8h0m2.2,15.6h0m2.5,-10.6h0m-4.5,-4.4h0m-1.7,12h0m5.7,1h0m-5.9,-5.1h0m0.6,5.9h0m3.2,-15h0m2.9,8h0m-6.5,6.5h0m1.9,0.6h0m2.4,0.2h0m-1.9,1.3h0m-0.6,-15h0m4.9,4.8h0m-6.9,0.3h0m1.7,-4.8h0m-0.8,2.7h0m5.7,2.9h0m0,0.2h0m0.7,1.6h0m-2.8,6.7h0m2.1,-1.6h0m-5.1,-13.2h0m0.2,-0.4h0m5.1,8.1h0m-4.8,7.1h0m5.1,-6.8h0m-0.4,-5.1h0m-1.4,-2.8h0m-0.8,14h0m1,-13.8h0m1,4.5h0m0,-3.1h0m-6.9,11.1h0m8,-1.6h0m-1,-4.4h0m-3.2,-7.1h0m2.2,13.4h0m-4.8,-11.1h0m4.8,12.2h0m-5,-8.6h0m5.8,-2.4h0m-0.8,9.5h0m0.1,0.9h0m-0.9,-13.9h0m-5,7.8h0m0.8,-2.3h0m0.1,0.8h0m6.4,4.3h0m-3.2,5.6h0m-0.2,0.3h0m0,-1.7h0m-4,-5.8h0m1.6,6.3h0m2.9,0.5h0m1.5,-15.8h0m-4.7,3.8h0m5.7,7.1h0m-5,3.1h0m-0.4,-12.4h0m0.8,13.5h0m4.4,-9.8h0m-1.1,8.2h0m-2.9,-13.3h0m2.7,13.3h0m1.3,0.2h0m-5.1,-11.7h0m-0.2,1h0m-1,4.6h0m6.6,5.2h0m-4.1,-13h0m2.7,14.8h0m-6.1,-3h0m7.6,-3.6h0m-6.6,4.6h0m6.7,-0.4h0m-0.1,-4.6h0m-3.8,8.4h0m1,-0.9h0m-2,-14.6h0m3.2,12.8h0m1.1,-8.7h0m14.4,10.9h0m-5.3,-3.1h0m6.3,2.3h0m0.2,-11.9h0m-0.2,11.9h0m-5.9,-9.7h0m-0.7,4.1h0m0.1,1.8h0m6.1,-8.8h0m1.2,3.2h0m0.4,4.4h0m-7.6,-4.7h0m4.8,12.2h0m-2.6,-1h0m2.2,0.2h0m-2.7,-13.2h0m-1.5,5.6h0m1.1,-6h0m5.2,12.8h0m-3.1,-14.4h0m3.2,-0.6h0m0.4,9.3h0m0,1.6h0m0.2,0.4h0m-3.4,3.5h0m-3.8,-5.7h0m5.1,-10.2h0m1.7,13.6h0m0.4,-4.9h0m0.2,5.3h0m-2.6,2h0m-0.8,-15.2h0m3.4,4.9h0m-5.1,9.6h0m5.3,-9h0m-7.6,5h0m4.4,-11.8h0m-4.2,10h0m-0.3,3.8h0m0.1,-7.3h0m0.4,-0.4h0m-1,0.1h0m7.7,6.2h0m0.5,-2.9h0m-6.7,-5.7h0m-0.7,6.4h0m2.2,7h0m0.8,-15h0m-1.9,1.7h0m0.7,0.4h0m-1.9,7.3h0m0.6,-6.2h0m6.4,10.3h0m-4.3,1.8h0m-0.5,-0.8h0m3.1,-14.5h0m-2.1,0.1h0m3.9,4.3h0m-4.1,-4.5h0m2.7,14.8h0m-5.9,-8.1h0m7.1,6.2h0m-6.5,-0.3h0m1.3,2.1h0m4.2,-14.3h0m-2.1,-0.9h0m2.9,12.1h0m-7.5,-1.9h0m5.8,5.4h0m-0.9,-15.6h0m2.3,14.9h0m0.4,-11.4h0m-6.8,1.4h0m7.1,3.8h0m0,-4.6h0m-7.1,-0.4h0m6.8,8.6h0m-3.9,-11.2h0m-2.1,11.9h0m-0.7,-4.5h0m6.1,5.7h0m0.6,-3.5h0m-1.5,5.1h0m1.8,-0.8h0m-6.9,-3.8h0m3.8,5.3h0m3.5,-7h0m-7.6,2.6h0m6.4,-9.7h0m1.1,7.9h0m-7.4,-6.7h0m3,11.5h0m2.5,0.4h0m-2.6,-0.2h0m-0.4,-0.8h0m-0.9,-11.5h0m3.6,-3.2h0m-1,15h0m-4.5,-7.9h0m3.2,-6.3h0m4.3,4.6h0m-1.5,-5.4h0m-4.5,2h0m-1,3.3h0m6.1,-2.8h0m-2.8,13.2h0m1.8,0.2h0m-2.5,-14.6h0m-0.9,1.5h0m-2.4,6h0m2.8,-6.7h0m-2,10.8h0m0,1.3h0m3.1,-14.6h0m-3.4,13h0m0,-5.7h0m-0.8,2.5h0m4.8,6.9h0m2.4,-16.4h0m-3.2,16.3h0m-3.2,-7.6h0m0.3,6.1h0m6.3,-14.3h0m-4.6,2.1h0m4.4,12.8h0m-1.7,0.2h0m2.1,-3.5h0m-3.9,-10.9h0m3.3,0.7h0m0,0h0m-2.9,13.3h0m3.9,-7.1h0m-6.5,4.9h0m5.7,-10.7h0m-2.2,13h0m2.7,-6.7h0m-4.3,-7.9h0m-2.6,6.7h0m6.6,-3.9h0m-0.5,-1.3h0m-3.6,-2.1h0m-0.2,1.2h0m3.1,-0.3h0m-5.4,5h0m0.4,6.3h0m2.2,-11.5h0m2,-1.4h0m1,0.8h0m-4.7,13.2h0m0.4,2.2h0m6.3,-10.9h0m-3.1,-4.8h0m-5.1,9.8h0m2.7,4.8h0m-1.5,-11.7h0m3.1,13.4h0m3,-12.5h0m0,10.7h0m0.6,-6.9h0m-2.2,-7.9h0m0.6,15.4h0m-5.5,-5.3h0m-0.4,-1.2h0m24,4.5h0m4.1,-0.4h0m-0.2,-0.1h0m-3.4,1.6h0m-4,-4.3h0m-1.1,-3.3h0m4.4,-4.2h0m4.5,2.5h0m-8.3,0.5h0m2.8,7h0m4.8,-8.2h0m-0.4,0.5h0m-3.9,-1.8h0m-4,3.3h0m2.8,6.6h0m0.4,-9.5h0m-1.2,0.2h0m7.1,3.6h0m-4.8,-4.2h0m0.4,10h0m3.6,1.3h0m-0.5,1.4h0m1.6,-3.5h0m-1.7,-8.1h0m-1.5,11.4h0m-3,-2.7h0m5.8,-6.3h0m-2.3,8.6h0m1.9,-9h0m-0.6,-3.3h0m-2.8,-1h0m4.4,11h0m-5.1,-10.2h0m-1,0.3h0m1.7,-0.4h0m3.5,3.3h0m-2,-3.6h0m0.2,0.4h0m-5.8,3.7h0m0.1,1.9h0m6.8,-4.8h0m1.7,8.3h0m-5.1,-9.7h0m-3.7,8.5h0m6,-7.8h0m-2.1,10.4h0m0.1,-10.6h0m-2,0.4h0m5.7,10.6h0m0.1,-7.2h0m-7.1,4.6h0m7.6,-3.2h0m0.5,-1.6h0m-5,-3.4h0m-0.9,0h0m-2.7,5.4h0m-1,-0.8h0m9.1,7.2h0m-7.7,-3.5h0m4,3.3h0m-3.1,-11.2h0m5.9,1.4h0m-2.2,9.6h0m-2.6,-1.4h0m5.2,0.5h0m-8.6,-4.6h0m3.6,-6.4h0m1.7,0h0m-0.7,0.4h0m-4.2,3h0m5.4,-3.3h0m-3.2,11.3h0m5.9,-0.9h0m0.8,0.2h0m-4.3,-11.2h0m1,0.1h0m-3.7,1.1h0m-1.4,1.6h0m4.4,-2.7h0m3.3,11.6h0m-7.4,-2.4h0m-0.4,-5.4h0m0.9,6.4h0m7.1,-0.6h0m-4.5,-8.9h0m-3.6,7.5h0m1.7,2.3h0m7.8,-3.7h0m-1.6,-2.6h0m-7.6,3.2h0m6.2,-5.9h0m-2.2,11.1h0m1.5,-12.3h0m-4.5,9.8h0m4.7,-10.7h0m0.8,2.8h0m-3.3,-1.5h0m3.8,11h0m-3.4,-10.8h0m2.3,-0.8h0m2,3.7h0m0.3,6.7h0m-7.8,-1.4h0m7.6,-5.5h0m-0.5,7.4h0m-5.7,0.3h0m0.6,-0.2h0m3.4,-10.1h0m-2.5,-0.2h0m-1.1,10.6h0m5.6,-0.6h0m-7.2,-9.2h0m1.5,9h0m5.7,1h0m-1.4,1.1h0m-6.5,-7.2h0m0.2,-2.5h0m4.9,-2.4h0m-1.2,11.3h0m3.3,-8.4h0m-1.4,9.1h0m-0.6,0.1h0m-4.9,-2.1h0m0.2,-0.7h0m-0.3,0.7h0m7.2,-7.4h0m0,0.6h0m1.1,1.4h0m-6,-4h0m1.2,10.1h0m3.4,-8.5h0m-4.2,-1.9h0m-2.9,4.2h0m6.4,7.7h0m-4,-11.9h0m6.5,5.2h0m-8.4,2.5h0m3.5,3h0m2.3,-11h0m-3.8,10.3h0m0.8,0.3h0m-1.7,0.5h0m3.8,-12h0m2,2.7h0m0.2,8.1h0m-0.9,1.9h0m-7.7,-7.6h0m1.1,-2h0m4.2,-2.4h0m-0.3,12.6h0m4.1,-1.5h0m-4.9,-0.6h0m2.8,3.2h0m2.7,-8.9h0m-6.2,-3.9h0m1.2,10h0m4.4,-5.8h0m-7.4,-3.3h0m5.4,10.9h0m1.5,-9.1h0m-0.6,9.2h0m-5.2,-11.9h0m4.9,12.9h0m1,-3.7h0m-3.3,2h0m-4.7,-5.5h0m0.6,0.2h0m28.9,-1.6h0m0.2,3.5h0m-4,2.4h0m3.4,-3.6h0m-9.3,-1.8h0m-0.2,-0.8h0m2.9,5.6h0m2.3,-11h0m3.8,2.9h0m-0.4,-1.5h0m-7.4,2.6h0m0.2,0.2h0m8,5.2h0m-0.4,0.8h0m-4.8,-10h0m-1.9,3h0m2,-3.3h0m-2,3.2h0m-1.2,1.1h0m3.8,7h0m4,-9.2h0m0.4,2.3h0m-4.3,7.4h0m4.3,-3.8h0m-8.7,-3.1h0m9,-1.5h0m-7.2,-0.9h0m4.2,-1.6h0m0.1,0.4h0m2.5,8.7h0m-6.1,-7.5h0m6.3,4.3h0m-0.3,-0.4h0m-7,3.3h0m7.1,-3.4h0m-3.6,5.3h0m-4,-2.8h0m1.8,2.1h0m4.9,-9.7h0m-7.2,5.2h0m0.2,1.1h0m8.1,3.2h0m-8.1,-6.2h0m1.9,7.2h0m-0.1,-10.1h0m-0.9,1.5h0m7,5.1h0m-0.7,-7.2h0m0.6,2.6h0m-3.1,-2.6h0m-3.2,9.6h0m6.2,-9h0m-1.1,0.1h0m1.5,2.7h0m-8.6,-0.6h0m5.1,7.9h0m4.2,-1.5h0m-2.7,1.3h0m-2.9,0.6h0m-2.1,-9.5h0m6.4,-1h0m-2.1,10.5h0m1.2,-0.6h0m0.6,-0.5h0m-5.4,-8.4h0m3.3,9.6h0m-5.4,-6.9h0m8.8,4.3h0m-7.7,-6h0m4,-2.6h0m-4.7,2.6h0m0.3,5.9h0m-1.8,-4.8h0m10,1.1h0m-9.7,-0.9h0m9.8,0.4h0m-3.5,6.8h0m-5.1,-4.1h0m5,-6.9h0m-2.3,-0.2h0m-3.1,7.9h0m8.9,-2.6h0m-4.9,6h0m-3.8,-4.3h0m8.2,-0.9h0m-8.6,-1.8h0m8.8,4.8h0m-0.3,-1.7h0m-8,-0.3h0m-0.8,-1.8h0m1.6,3.3h0m7.4,-2.8h0m-0.2,-1.3h0m-6.7,5.2h0m2.5,-10.1h0m1.7,0.9h0m2.1,9.3h0m-6.7,-0.4h0m-1.2,-2.1h0m8.9,-3.1h0m-8.8,-1.9h0m2,7.6h0m6.6,-5.8h0m-8,-1h0m3.5,-3.3h0m-2.5,2h0m6.7,1.1h0m-3.2,7.8h0m3,-1.5h0m-2.4,-8.7h0m-5.8,7.9h0m3,-9h0m-2.1,11h0m-0.9,-4.4h0m7.7,4.7h0m0.4,-4h0m-0.1,-5.2h0m-0.6,0.2h0m-7.7,4.3h0m8.6,3h0m0.7,-6.2h0m-9.7,2.2h0m1.6,-2.1h0m6.7,-1.1h0m-2.9,8.7h0m-5.4,-5.6h0m0.6,1.7h0m8.4,4.3h0m-8.5,-6.7h0m8.7,3.3h0m-8.2,-0.6h0m7.8,3.5h0m-7.7,-3.6h0m-0.5,0h0m5.6,-6.6h0m3,5.5h0m0.6,3.3h0m-3.7,2.9h0m-0.4,-1.4h0m3.3,-2.5h0m-7.2,2.3h0m7.3,-4h0m-8.4,-2.1h0m0.3,-1.2h0m1.4,8.2h0m1,-10.3h0m5.5,7.9h0m-4.2,2.4h0m3.4,-9.5h0m-1.5,-2.4h0m-4.9,3.5h0m4.4,7.8h0m-4.6,-8.4h0m6.5,-0.6h0m-3.2,9h0m3.4,-8.8h0m-7.8,1.5h0m8.9,2.2h0m-8,-3.6h0m-0.7,2.9h0m5.4,6.6h0m3,-3.7h0m-3.9,3.9h0m-4.5,-7.7h0m8.9,0.4h0m-4,6.8h0m2.6,-9.8h0m-7.3,6.2h0m8.6,-2.6h0m-1.9,6.4h0m-4.6,-0.8h0m18.1,-7.5h0m3.2,-1.4h0m-0.5,-0.6h0m0.3,9.2h0m3.9,-9.2h0m-6.7,1.4h0m9.2,1.4h0m-2.7,-2.7h0m0.7,-0.1h0m-7.7,5.7h0m6.1,-5.5h0m-7,2.8h0m10.6,2.3h0m-9.4,0h0m7,-4.5h0m1,0.5h0m-0.2,6.7h0m-5.5,-7.8h0m-2.6,1h0m9.9,1.5h0m-10,0.4h0m0.3,4h0m8.4,0.4h0m1.4,-5.5h0m-10,1.1h0m8.4,3.7h0m-0.5,-5.8h0m-3.1,-0.9h0m-5.7,4.9h0m7.5,3.4h0m-7.2,-4.5h0m0.8,1.9h0m7.9,-4.9h0m-7.5,5.7h0m-1.2,-1.7h0m2.1,3.2h0m-1.2,-3.6h0m9.4,-1.3h0m-3.7,5.3h0m0,0h0m1.8,-8h0m2,5.1h0m-9.6,-1.6h0m0.1,1.9h0m0.3,-4.4h0m-1,2.2h0m9.5,3.2h0m-6.2,2.2h0m-2.2,-7.9h0m6.1,7.7h0m-0.5,-8.2h0m-5.7,6h0m-1.5,-1.2h0m0.3,-3.2h0m5.8,-1.5h0m-4.5,0h0m-0.9,4.3h0m2.6,-4.7h0m4.8,0.3h0m-4.5,8.5h0m7.4,-5.4h0m-0.7,-0.8h0m0.2,0h0m1.2,2.6h0m-3.4,2.9h0m2.5,-4h0m-7.8,3.1h0m-2.1,-2.4h0m4.5,-4.7h0m6.3,2.6h0m-1.8,-1.8h0m-8.8,2.3h0m2.7,4.6h0m3.6,0.8h0m-4.1,-0.1h0m-3.1,-7.1h0m10.3,5.4h0m-10,-3.1h0m5.6,5.5h0m-5,-2.3h0m0.2,-5.4h0m2.7,7.3h0m7.5,-4.3h0m-11.2,-2.1h0m3.2,5.6h0m-3.3,-3.3h0m10.2,1.5h0m-5,2.8h0m0,-0.6h0m-0.1,-8.1h0m-4.1,2.1h0m9.6,-0.6h0m-1.5,5.1h0m-8.9,-2.8h0m1.6,-3.6h0m2,8.2h0m7,-2.3h0m-5.2,3h0m-2,-9.6h0m6.7,1h0m-10.1,0.6h0m2.9,-1.6h0m-2.6,4.1h0m6,4.5h0m2.2,-8.9h0m-4.8,0h0m-3.5,4.1h0m2.7,-3.5h0m3.7,8.4h0m2.9,-2.4h0m-2.3,-5.8h0m-0.4,-0.8h0m1.7,1.1h0m1.4,1.3h0m-9.9,0.6h0m8.6,4.1h0m-3.7,1.7h0m2.4,-8.1h0m3.5,2.3h0m-3.7,6.1h0m-3.8,-0.4h0m7.2,-1.7h0m-4.2,-6.6h0m-2.7,0h0m4.7,7.1h0m-3.3,-7h0m3.1,7h0m-7.3,-2.4h0m9.7,0.8h0m-1.7,2.1h0m-2.4,-7.3h0m-5.2,0.2h0m9.2,2.8h0m-0.2,-0.6h0m-9.2,3.6h0m2.6,-6.1h0m7.7,3.5h0m-11.7,0.1h0m9.5,3.2h0m-2.7,-7.3h0m-3.3,0.5h0m-2.5,4.4h0m0.3,-3.9h0m-0.6,4.7h0m4.1,3.1h0m2.6,-0.6h0m1.4,-0.8h0m1.8,-6.2h0m-6.3,7.1h0m1.4,1h0m5.2,-4.5h0m-10.5,0.4h0m7.6,2.5h0m-4.4,0.3h0m5.1,-0.8h0m-1.4,-7.4h0m4.3,6.1h0m-3,-5.7h0m-4.6,9.2h0m5.7,-2.9h0m0.8,-3.5h0m0.2,-1.4h0m-0.3,4.1h0m-7.8,-5.2h0m0.3,-0.7h0m3.4,9.4h0m0.7,0.5h0m-5.5,-9.6h0m0.4,0.9h0m8.1,-0.2h0m-9.4,3.1h0m-0.4,0.7h0m0.8,-1.2h0m0.1,0.5h0m10.2,0.6h0m-1.8,-4h0m-2.5,8.5h0m-6.3,-7.4h0m0,3.9h0m31.4,-1h0m-5.1,-4.1h0m5.2,3.7h0m-8.2,4.1h0m5.2,-7.5h0m1.6,1.3h0m-5.3,6.1h0m-5,-4.6h0m4.6,4.2h0m-2.8,-6.8h0m2.5,0.2h0m4.7,-0.1h0m0,6.3h0m-8.8,-4.6h0m6.3,6.1h0m4.2,-4.4h0m0,1.9h0m-10.8,-2.2h0m9.1,-4h0m2.2,2.5h0m-1.2,-0.4h0m-1.9,-1.9h0m3,1.6h0m0.6,1.4h0m-10.4,4.1h0m5.4,-6.9h0m-6.7,2.6h0m4.9,-2.1h0m-4,0.3h0m0.5,6.4h0m8.7,-5.9h0m-10,1.8h0m8.5,-3h0m-3.9,7.4h0m-1.6,-6.6h0m8.1,2.3h0m-6,-2.9h0m5.7,4.3h0m-9.9,-2.6h0m10.4,1.2h0m-10.8,1.7h0m5.2,3h0m-2.8,-7h0m-2.7,3.3h0m-0.3,-2.4h0m-0.5,1.4h0m2.7,-2.1h0m0.8,-0.5h0m-0.7,7.1h0m4.1,0.8h0m5.5,-4.5h0m-11.7,1.5h0m0,-1.6h0m6.2,4.7h0m-4.1,-7.6h0m2.5,6.5h0m-4,-5.8h0m8.3,5.1h0m-0.8,1.1h0m-3.6,0h0m4.9,-6.8h0m1,3.4h0m-6.4,2.6h0m-3.7,-1.3h0m10.6,-2.6h0m-8.3,-2.3h0m6.8,0.2h0m-5.5,-0.9h0m6.6,5.5h0m0.9,-1.2h0m-4.5,-4.7h0m4.6,4.1h0m-0.2,-0.1h0m-9.1,3.2h0m0.1,-0.1h0m8.6,-3.2h0m-10.7,1.8h0m-1.2,-0.6h0m1.9,1.7h0m4.8,-6.9h0m5.2,2.8h0m-9.2,4.1h0m-1.6,-3.5h0m10.7,1.1h0m-4.1,-4.8h0m-3.3,1.2h0m7,5.9h0m-4.6,-6.6h0m-6.3,1.9h0m0.3,2.2h0m-0.6,0.3h0m5.9,-3.9h0m1.2,-0.6h0m-2.8,0.9h0m2.9,-0.9h0m-3.8,7.4h0m-1.1,-5.9h0m3.2,-1.3h0m0.9,0.1h0m4.3,7.1h0m0.1,-6.9h0m-3.4,8h0m-6.6,-4.9h0m-0.2,0.7h0m11.5,-0.9h0m-3.1,5.3h0m-6.9,-1.4h0m-1.7,-5.3h0m4.4,6h0m-2.5,-0.3h0m-2,-3.5h0m11.2,-0.3h0m-11.2,-0.7h0m1.3,4.1h0m7.5,-7.2h0m-7.8,6.2h0m2.4,1.1h0m5.7,-6.9h0m3.1,3.2h0m-11.9,-1.5h0m4.1,5.9h0m5.5,-7.3h0m-9.2,3.2h0m5.3,4.9h0m-3.1,-8h0m0.1,0.2h0m8.3,3h0m-10.1,-2.1h0m-0.5,0.9h0m4.9,5.6h0m-3.2,-0.8h0m3.6,-7.3h0m6.1,4.6h0m-11.8,-2.5h0m3.9,-1.8h0m6,1.1h0m1.5,1.3h0m-1.1,-2h0m1.2,3.2h0m-10.9,2.4h0m7.7,-6.4h0m0.5,0h0m-3.1,7.5h0m3.8,-1.2h0m-1.3,1.3h0m-6.4,-0.5h0m0.6,0.2h0m6.2,-0.2h0m-8.4,-5.8h0m8.7,5.5h0m-5.2,-6h0m7.3,0.8h0m-2.4,6h0m1.6,-2.5h0m-8,2.6h0m8.6,-6.6h0m-8.6,-0.6h0m-2.5,2.9h0m0.4,0.4h0m8.5,-3.9h0m-8,6.7h0m10.3,-3.9h0m-10.5,3h0m6.6,2.3h0m-0.1,-8.2h0m-6.6,4.6h0m-0.3,-3.1h0m9.6,5.4h0m-1.6,1.6h0m-4.1,-7.6h0m2.4,7.2h0m3.9,-7.9h0m-8.9,6.7h0m6.1,1.4h0m3.1,-5.6h0m-8.9,4h0m7.2,-6.5h0m-8.3,4.1h0m3.6,-3.7h0m3.5,-1.3h0m-2.1,1.1h0m0.2,7.9h0m24.8,-1.7h0m-8.6,-5.9h0m0.4,7h0m8.1,-6.8h0m-9.1,3.5h0m0.4,3.7h0m-0.7,-2.5h0m1.5,-5h0m-0.2,-0.7h0m7.8,6.8h0m-1.2,-5.7h0m-8.3,2.1h0m-0.1,-0.7h0m2.6,5.5h0m-1.8,0.2h0m0.3,-0.3h0m6.8,0h0m-7.8,-5.8h0m3.3,-2.6h0m-3.8,2.4h0m9.8,5.9h0m-7.9,-7.7h0m2,8.4h0m-3.3,-5.2h0m12.5,0.4h0m-9.9,-4.2h0m1,0.6h0m-0.9,0.1h0m-2.2,3.8h0m9.4,-3.1h0m-9.8,0.3h0m6.7,-0.6h0m-6.1,6h0m-0.1,-5.6h0m0.1,5.3h0m11.8,-1.8h0m-12.3,0.3h0m10.6,0h0m-0.1,0.5h0m-10.7,-0.6h0m6.2,3.5h0m3.4,-1.9h0m-0.2,0.2h0m-3,1.1h0m0.6,-7.1h0m-1.9,-1.2h0m1.5,1.2h0m-7.5,0.5h0m2,-0.7h0m-1.6,6h0m0.4,-3.2h0m0.1,1h0m7.5,4.1h0m0.5,-7.8h0m3.5,3.9h0m-5.7,-4h0m-6.3,3.5h0m0.4,-0.7h0m12.2,1.5h0m-4,3.3h0m-8.8,-4.6h0m5.9,-4.1h0m2.4,9h0m-7.1,-0.6h0m3.1,-7.5h0m7.6,2.3h0m-11.5,2.5h0m8.6,2.2h0m-8,-5.6h0m0.2,4h0m3.9,-6h0m-1,0.9h0m7.8,5h0m-0.6,1h0m-3.1,-6.2h0m0.1,0.3h0m-3.5,7.1h0m-0.4,-7.9h0m-2.5,0.7h0m0.1,6.7h0m10.7,-4.8h0m-11.4,3.3h0m-0.6,-1.4h0m0.1,3.3h0m6.3,0.3h0m1.1,-7h0m-3,-0.7h0m-4.2,6.4h0m5.1,2h0m2.5,-1.2h0m-8.2,-1.5h0m12.6,-2.2h0m-7.3,4.3h0m5.4,-2.1h0m-5.1,-5.7h0m2.2,7.9h0m2.4,-6.8h0m-0.5,5.5h0m-3.4,1.8h0m-5.7,-2.3h0m8.5,-4.9h0m-5.4,6.8h0m-1.4,-7.7h0m-0.8,0.2h0m6.6,-0.1h0m-3.3,-0.7h0m-0.9,0.3h0m4.8,7.2h0m-5.5,0.3h0m3,-7.7h0m-6.2,4.7h0m10.4,1.1h0m-5.8,-5.4h0m4.5,0.7h0m3.8,1.8h0m-12.1,3.7h0m-0.9,-0.5h0m0.1,-0.9h0m12.8,-1.4h0m-13.2,-0.1h0m0.5,0.6h0m12.2,-0.6h0m-11.9,-1.2h0m5.5,6h0m-0.5,-0.1h0m-0.9,-0.2h0m1.8,-7.8h0m2,0.3h0m-2.5,7.2h0m-6.4,-5.6h0m8.3,5.3h0m-1.5,0.7h0m-6,-1.2h0m4.7,-7h0m-4.2,1.5h0m-0.2,-0.8h0m5.6,7.5h0m-3,-7.8h0m1.9,-0.7h0m-4.2,7.9h0m5.2,-8h0m4.3,2h0m-7.8,6h0m3.3,0.4h0m2.9,-0.8h0m-3.6,-6.9h0m-4.1,0.6h0m3.4,-0.7h0m-3.6,4.3h0m12.1,0.1h0m-11.2,2.8h0m9.3,-5.3h0m-10.6,0.8h0m-0.6,3.9h0m8.3,-6.8h0m2.1,1.8h0m0.5,3.6h0m-8.6,-5.2h0m-1,7.7h0m5.5,0.3h0m-5.6,-2.1h0m5.4,-5.8h0m0.9,-0.5h0m-6.8,5.9h0m6.4,1.9h0m-3,-7.5h0m-3.8,2.1h0m5,5.4h0m0.9,-7.6h0m3.2,8.1h0m-0.7,-0.8h0m0.2,0.4h0m-2.3,-7.3h0m4.9,1.3h0m-3.3,-1.1h0m-7.1,5h0m4.3,3h0m3.8,-1.3h0m-1,-6.5h0m-2.3,6.8h0m-5.8,-4.6h0m6.9,4.7h0m14.4,-1.3h0m4.5,-6.3h0m-0.8,7.2h0m2,-7.1h0m-4.9,5.8h0m2.8,2.1h0m1.4,-8.4h0m-5.4,2h0m2.3,-1.2h0m8.3,2.7h0m-9.8,-1.9h0m1,-0.2h0m-2.8,3.9h0m7.4,3.2h0m-0.9,0.3h0m-5.7,-6.9h0m1.5,4.6h0m5.4,2.3h0m-3.6,-1.3h0m-2.1,-0.8h0m9.3,-2.7h0m-6.4,-3.6h0m-2.9,5.9h0m8.1,1.9h0m-7.6,-6.7h0m-1.7,3.3h0m0.2,-2.9h0m1.7,-1.3h0m-0.9,5.7h0m9.1,-0.2h0m-9.9,-5h0m9.9,1.3h0m-11.8,0.8h0m4.3,4.3h0m1.5,-7.1h0m-3.9,5.3h0m10,1.6h0m-6.4,0.3h0m-5.6,-4h0m0.5,0h0m3.7,-2.6h0m7.9,2.9h0m0.4,0.6h0m-7.4,-3.7h0m-2.2,5.5h0m4.4,2.4h0m3.2,-7.1h0m-9.7,1h0m11.4,5.5h0m-5.6,-0.3h0m2.4,-6.8h0m-4.1,0h0m0.6,-0.1h0m7.5,5.9h0m-12.3,-2.9h0m12.5,-0.3h0m-5.2,5.1h0m-5,-2h0m2,0.8h0m0.3,0.1h0m4.7,1.6h0m-7,-2.3h0m6.4,-6.4h0m3.7,2h0m-9.1,5.5h0m-0.4,-6.5h0m-0.8,5.5h0m5.9,-7h0m3.6,3.9h0m-0.9,-1.5h0m-2.8,-1.5h0m-7.6,3.4h0m11.5,1.8h0m-4.2,-5.4h0m-1.1,8h0m-6,-5.1h0m4.9,4.2h0m3,-7h0m-4.7,0.5h0m7.6,4.5h0m-8.7,-4.2h0m9.6,3.8h0m-3.5,2.8h0m2.4,-2h0m-6.1,1.9h0m-1.8,-6.8h0m-3,2.6h0m0.8,-1.5h0m1.4,-0.7h0m8.7,0.9h0m-10.7,0.3h0m1.2,2.6h0m0.5,-4.6h0m-1.1,4.4h0m2.2,1.8h0m8.8,-1.4h0m-8.3,2.1h0m2,0.6h0m-5.1,-4h0m1.1,0.9h0m9.7,1h0m-7.6,-5h0m7.5,1.5h0m0.5,0.6h0m-11.4,-1.4h0m11.2,4.5h0m-5.3,-6.7h0m-0.6,0.3h0m5.3,7.5h0m-10.4,-3.5h0m6.3,-3.4h0m-6.5,2h0m1,-1.5h0m-0.2,0.4h0m8.7,0.2h0m-7.2,4.8h0m-1.6,-4.7h0m10,0.7h0m-5.9,-2.1h0m-3.1,6.7h0m8.8,1.3h0m-3.6,0.4h0m2.4,-7.2h0m-1.1,-0.7h0m-0.4,-0.5h0m-1.8,8h0m-4.2,-2.5h0m7.8,-5h0m-3.5,7.2h0m-2.5,-7.3h0m2,7.3h0m5.3,-5h0m-5.1,5h0m5.7,-3.7h0m-1.4,3.2h0m0.5,0.2h0m-6.7,-6.8h0m6.5,1.1h0m0.5,1.7h0m-0.2,-1.9h0m-10.7,1.9h0m-0.6,0.7h0m11.6,3.5h0m-7.9,-0.6h0m4.9,-6.6h0m-6.4,6.4h0m0.8,-6.1h0m9.3,3.5h0m-10,1.3h0m0.5,0.5h0m7.2,-5.8h0m2.4,2.7h0m-2.2,4.9h0m1.2,-4.1h0m-7.7,3h0m6,1h0m-7.3,-6.4h0m7.9,-0.3h0m-0.8,6.6h0m-9.2,-4.4h0m0.6,0.6h0m2.2,3h0m8.7,-0.9h0m-2.1,-5.4h0m1.8,6.9h0m-0.2,-1.7h0m0.6,-1.7h0m-2.5,3.8h0m1.7,0h0m-2.6,-7.6h0m-7.5,1.5h0m8.1,-1.7h0m3.1,5.8h0m-1.2,1.7h0m-1.7,0.6h0m-6.4,-7.8h0m1.3,6.5h0m-4.4,-4.5h0m7.3,-2.7h0m-1.1,-0.3h0m4.7,8h0m-5.7,-7.4h0m5.6,0.7h0m-6.6,6.2h0m-0.4,-5.9h0m-2.8,3h0m1.1,2.1h0m0.4,-5.3h0m29.5,4.9h0m-7.3,-5.2h0m-1.8,0.8h0m-1.4,5.1h0m3.3,0.7h0m5.2,-0.8h0m-1.3,0.7h0m3.5,-0.9h0m-3.2,0.9h0m-3.9,-7h0m1.8,-0.4h0m-5.7,5.5h0m13.2,0h0m-11.5,1.7h0m9.4,-1.1h0m0,-4.5h0m-0.7,-1.4h0m-4.2,7.4h0m4.4,-5.9h0m-10.8,3.4h0m13.4,-2.1h0m-1,-0.7h0m-5.3,5.1h0m5,-4.2h0m0.2,0.3h0m-3.9,3.5h0m-6.2,0.6h0m7.3,-7.6h0m1.7,1.8h0m-4.3,6h0m5.4,-5.3h0m-1.8,-1.1h0m-9.9,1.1h0m7.9,-2.1h0m-4.7,-0.3h0m-4.1,5.8h0m13,-2h0m-9.3,-3.5h0m6.5,0.6h0m-9.6,4.1h0m8.2,-5.1h0m4,4.5h0m-2.7,2.4h0m-2.6,-6.4h0m4.9,5.7h0m-10.4,-4.6h0m3.8,6.2h0m1.5,0.4h0m-6.4,-0.8h0m0.9,-4.1h0m3.6,4.9h0m4,-1.5h0m1.7,-0.5h0m-10.4,1.2h0m11.6,-5.3h0m-2.6,4.6h0m0,0h0m-8.2,-4.1h0m7.4,4.3h0m3,-5.3h0m-9.9,0.4h0m2.5,6.3h0m9.4,-3.6h0m-0.8,-1.6h0m-0.6,2.3h0m-4.7,-4.7h0m-7.9,5.8h0m4,-5.8h0m-3.5,4.4h0m3.4,-5.3h0m2.8,8.3h0m1.3,-0.8h0m-3,0.5h0m2,-7.2h0m2.3,0.2h0m3.6,3.7h0m-9.3,3h0m7.2,-6.6h0m-0.2,-0.1h0m-8.6,6.4h0m11.2,-1.7h0m-1.3,-2.8h0m-12.6,3.3h0m10.1,0.7h0m-1.3,0.5h0m-1.8,-7.1h0m6.4,3.9h0m-8,-4.1h0m4.1,7h0m5.2,-3.2h0m-1.8,2.1h0m-8.7,-4.8h0m-2.8,4.8h0m11.2,0.5h0m-11.2,-3.1h0m12.6,1.2h0m-0.6,1.7h0m-3.5,0.8h0m4.3,-3.5h0m-10.1,-3h0m5.1,7.3h0m4,-4.1h0m-2.5,-2.9h0m-1.6,6.9h0m1.9,-6.6h0m-1.8,6.4h0m-0.2,0.1h0m4.4,-3.5h0m-12,2.1h0m8.7,1h0m3.3,-4.2h0m-11.5,0h0m2.5,4.6h0m8.7,-5.4h0m-1.3,-0.5h0m-3.1,-0.9h0m2,5.8h0m-7.7,0.9h0m-2.3,-1.2h0m0.8,0.3h0m5.4,1.1h0m0.3,0.6h0m2.2,-8.1h0m-8.4,5.7h0m8.3,1.3h0m5.1,-2.9h0m-13,2.6h0m0.3,-2.3h0m-0.5,1.9h0m4.7,1.5h0m5,-1.2h0m3.3,-2.1h0m-12.7,0.6h0m8.9,1.7h0m-9,-2h0m12.1,0.7h0m-9.6,1.7h0m-1,-5.2h0m-1.3,1.4h0m12.7,1.2h0m-9.5,-4.8h0m-0.5,1h0m5.8,-0.9h0m-7.1,7.6h0m6,-6.9h0m-7,3.7h0m6.5,3.2h0m-7.7,-3.5h0m5.8,3.8h0m0.9,0.1h0m-1.7,-7.7h0m-3.1,2.1h0m10.2,0.8h0m-2.7,4h0m4.6,-3.8h0m-14.1,2h0m2.6,-4.7h0m1.3,7.4h0m5.8,-1h0m-6.2,-6.4h0m8.9,2.7h0m-5.8,-3.2h0m6.9,4.5h0m-1.7,1.8h0m-9.9,-3.1h0m10.8,-0.9h0m-10.3,-0.9h0m7.1,5.2h0m3.4,-1.7h0m-12,-0.7h0m6.1,-3.7h0m1.2,6.8h0m-3.8,-6.9h0m3.7,6.6h0m-5.8,0.1h0m6.1,-6.7h0m-5.6,7.4h0m5.2,-0.8h0m-3.7,0.5h0m-3.6,-2.5h0m4.6,-4.7h0m3.7,6.9h0m-0.6,-7h0m-2,0.2h0m6.5,5.3h0m-0.5,0.2h0m-1.6,-5.4h0m-4.7,7h0m23.6,0.7h0m3.1,-2.6h0m-12,-2.2h0m10.8,-0.8h0m1.4,1.3h0m-4.4,-3h0m4.8,3.1h0m-12.5,0.8h0m10.4,-3.3h0m-5.1,-1.2h0m3.5,7.9h0m-4.8,-7.4h0m6.6,5h0m-3.7,3.4h0m-0.7,-8.9h0m2.4,6.8h0m-8.8,-1.5h0m4.9,-5.5h0m0.4,0.6h0m-4.9,1.8h0m-0.2,0.7h0m9.3,4.6h0m-1,-7.5h0m1.9,5.9h0m-4.8,-6.1h0m-5.5,5.9h0m0.1,-1.3h0m-0.3,3h0m2.2,1.1h0m-1.4,-6.5h0m-1.3,1.6h0m1.1,-3.5h0m11.4,4.8h0m-3.9,3.6h0m-4.5,0.4h0m-1.6,-8.1h0m-1.3,0.6h0m4.9,7.7h0m-4.5,-8h0m3.1,-0.6h0m8.6,3.2h0m-12.6,-1.3h0m11.6,0.7h0m-4.1,5.1h0m-8.6,-2.1h0m12.5,-4h0m-0.4,3.8h0m-1.4,0.8h0m-1,-6.5h0m-8.4,4.3h0m11.9,-2.4h0m-11.7,2h0m1.9,-3.8h0m-2.1,6.2h0m4.2,1.8h0m-3.3,-7.8h0m-2.1,5.3h0m1.5,-2h0m4.1,5.1h0m-3,-8.7h0m3.7,0.2h0m0.9,-0.2h0m-0.9,8.2h0m-5.6,-7.8h0m12.6,2h0m-3.6,-2.3h0m-3,8.2h0m4,-7.4h0m-10,3.1h0m11.8,0.1h0m-3.7,4.3h0m-1,-8h0m2.1,7.2h0m-9.7,-6.1h0m5.8,-1.1h0m1.4,-0.6h0m-2.8,8.6h0m-3.5,-5.3h0m0.5,-0.8h0m9.2,-1.7h0m0.6,5.4h0m-2.5,1.6h0m-3.8,-7.9h0m4.4,7.2h0m3.5,-4h0m-3.9,4.8h0m-2.5,0.4h0m-3.8,-7.6h0m7.6,6.3h0m1.7,-3.9h0m-5.6,-2.5h0m5.4,4.6h0m1.7,-0.8h0m-2.2,-2.4h0m-1.8,4.7h0m-8.5,-0.5h0m8,2.2h0m2.3,-2h0m-1.1,0.7h0m-0.1,-0.7h0m2.4,-2.8h0m-12.4,1.6h0m13,-1.4h0m-2.1,2.8h0m-7.6,-6.5h0m-2.9,7.2h0m11.9,-1.8h0m-4.9,-5h0m-6.4,6.6h0m0.7,-0.4h0m11,-3.1h0m-3,3h0m0.4,0.3h0m2.8,-4.4h0m-11.8,-0.5h0m1.4,-2.2h0m5.5,8.1h0m-7.7,-1.6h0m11.3,-4.9h0m-6.2,7.8h0m4,-2.5h0m3.7,-2.6h0m-12.2,-1.9h0m0.5,0.7h0m6.6,5.5h0m-7.3,-2h0m11.1,-4.4h0m-5.7,-1.4h0m-4.8,3.4h0m6.9,3.7h0m-6.6,-1h0m10.2,-4.2h0m-7.7,5.5h0m-3.1,-0.3h0m-0.2,-6.6h0m-1.2,4.9h0m1.3,-1h0m6.7,4.1h0m4.3,-3.9h0m-11,-4.4h0m-0.8,3.9h0m0.1,1.4h0m12.4,-1.2h0m0.2,-1.7h0m-10.5,4.8h0m10.3,-4.7h0m-12.9,3.1h0m10.4,-5.4h0m-7.2,-0.5h0m-1.4,7.6h0m-1.7,-3.9h0m10.4,2.4h0m3.5,-1.7h0m-2.3,-3.4h0m-10.1,5.2h0m7.2,-6.4h0m-3.2,-0.5h0m-2.3,0.8h0m-1.8,-0.5h0m-0.5,4.3h0m1.4,-3.5h0m5.4,8h0m4.7,-5.2h0m-9.7,-3.4h0m9.7,4.5h0m-8.6,4h0m6.5,-2.2h0m-9.5,-5.7h0m13.1,2.8h0m-5,4.3h0m-7.9,-6.6h0m0.2,0.4h0m5.9,7.2h0m4.5,-8h0m-5.3,7.9h0m3.6,-8.6h0m3.2,3.5h0m-4,-3.2h0m-8.6,4.4h0m-0.2,-3.6h0m4.3,-1.1h0m-3.1,1.1h0m11.2,3.8h0m-0.2,-0.2h0m-4,2.7h0m-6.2,-0.1h0m8.3,-0.4h0m-0.8,0h0m-4.4,1.9h0m5.5,-2.7h0m-0.8,-5.4h0m-1.5,6.6h0m1.7,-7.3h0m-0.9,7.2h0m-3.8,-7.4h0m6.2,5.3h0m-0.3,-3.6h0m1.6,3.4h0m-0.4,-3.3h0m-5,-2h0m2.1,0.7h0m-4.4,0h0" stroke="#6c91d0"/>
<path d="M54.9,50.3h0m0.3,0.3h0m-0.6,-0.3h0m-0.1,0h0m0.3,0.2h0m0.9,-0.1h0m-0.9,-0.1h0m-0.4,0h0m0.4,125.7h0m-0.5,0.2h0m0.3,0.2h0m0.7,-0.3h0m-0.1,0.2h0m-0.3,0.1h0m0.1,-0.2h0m0.7,-0.3h0m2.2,-101.5h0m-0.4,0h0m0.3,0.2h0m-0.2,0.2h0m0.4,-0.3h0m-0.3,0.3h0m-0.2,64.6h0m-0.1,0h0m0.3,-0.1h0m0,0.2h0m-0.2,-0.4h0m0.6,0.2h0m1.7,-59.6h0m0.3,0.1h0m-0.1,-0.4h0m0.4,52.7h0m-0.2,0.3h0m0.1,0h0m0.1,0.1h0m-0.5,-0.3h0m0.1,0h0m3.2,-48.6h0m-0.5,-0.1h0m0.1,0.4h0m-0.2,-0.1h0m0.1,39.4h0m-0.3,0h0m0.2,0.1h0m0.2,-0.1h0m-0.3,0.4h0m0.2,0h0m0.4,-0.3h0m-0.1,-0.2h0m3.7,-33.7h0m0,0h0m-0.8,0.3h0m0,30.8h0m0.9,-0.1h0m-1.3,0h0m0.5,0.2h0m0.2,-0.3h0m5,-29.1h0m-1.5,-0.1h0m1.7,0.1h0m-0.6,-0.1h0m1.1,-0.2h0m-0.5,30h0m-0.5,0.2h0m-1,-0.5h0m9.4,-1.5h0m-1.2,-26.4h0m2.9,18.8h0m-0.5,-20.1h0m-4.4,13.4h0m5,-10.7h0m-4.4,0.4h0m0.9,23.1h0m3.3,-4.5h0m0.5,-9.3h0m-0.1,4.3h0m-1.3,10.3h0m-1.4,0h0m-2.3,-5.3h0m2.9,-21.7h0m10.7,9.6h0m-0.9,-5.9h0m-5.2,5.3h0m1.4,15.1h0m-1.2,-9.7h0m0.8,-11.3h0m5,11.2h0m-6,-6.5h0m0.9,15.9h0m3.4,1.5h0m-1.2,0.7h0m2.7,-19.2h0m-0.4,-2.6h0m-5.3,9.4h0m5.9,-2.9h0m-1.1,13.1h0m-1.3,-21.7h0m4.4,14.1h0m6.3,-2.1h0m0,-2.3h0m-1.4,11.6h0m1.3,-14h0m-3.9,14.7h0m-2.3,-12.8h0m5.6,10.1h0m-3.6,-16.9h0m0.8,20.1h0m-2.9,-11.3h0m0,-0.4h0m6.2,-4.1h0m-4.3,-4.2h0m1.4,0.3h0m2.1,17.5h0m-5,-3.2h0m0.6,2h0m1.2,2.5h0m-1.3,-2.7h0m-0.1,-0.5h0m-0.7,-7.2h0m7.9,2h0m7.2,5h0m-3.6,2h0m3.5,-1.3h0m-1.9,-17.7h0m-3.9,17.5h0m-0.8,-14h0m4.6,16.8h0m-4.8,-15.7h0m6.2,-2.9h0m-3,17.3h0m-0.4,-0.2h0m4,-15h0m-1.4,16.2h0m-5.5,-5.5h0m7.3,-6.9h0m-7.3,-3.2h0m2.8,-3.9h0m4.4,5.4h0m-1.9,14.1h0m0.9,-0.9h0m14.4,-0.1h0m-5.2,-6.1h0m0.6,3.3h0m7.3,-14.3h0m0.7,6h0m-4.4,10.9h0m2.8,-18.9h0m-3,18.9h0m4.7,-4.3h0m-8.7,0h0m8.4,-8.8h0m0.8,7.4h0m-1.5,-11.6h0m-0.8,15.7h0m-2.2,1.7h0m0.8,-0.3h0m-4,-14.4h0m5.5,-4.1h0m-0.1,17h0m-5.5,0.1h0m-0.1,-11.3h0m-0.1,1h0m7.3,-0.9h0m-8.5,8.6h0m2.6,3.6h0m-0.3,-16.4h0m6.7,7.9h0m-8.5,0.1h0m2.1,8.2h0m5.9,-3.2h0m-7.5,-7h0m17.3,-4.4h0m3.2,-2.9h0m-5.3,15h0m8,-11.2h0m-5.3,14.9h0m2.2,0.7h0m-5.2,-5.5h0m8.5,-1.1h0m0,2.2h0m-8.3,-0.4h0m3.6,4.3h0m4.7,-14.6h0m-2.4,15.4h0m0.4,-0.2h0m2.5,-12.4h0m-3.5,-7.1h0m-2.1,1.4h0m5.5,8.1h0m-5.5,9.2h0m-2.7,-1.6h0m0,-12h0m1.5,13.2h0m0,-15h0m-0.3,14.9h0m5.2,1.1h0m23.1,-9.1h0m-0.4,4.4h0m-9.8,-3.6h0m9.9,-2.8h0m-0.1,6.6h0m-9.6,-1.5h0m9.5,-5.8h0m0.6,2.8h0m0,0.7h0m-1.1,5.8h0m-0.4,0.1h0m-9.2,-8h0m10.7,2.4h0m-3.3,-8.6h0m-7.2,4h0m1.7,8.5h0m8.6,-2.8h0m-9.9,-7.1h0m-0.2,5.5h0m9.6,-3.4h0m-8.6,-2.7h0m4.4,12.6h0m5,-5.4h0m-8.3,3.4h0m2.3,-12.2h0m26.3,3.8h0m-8.4,8.5h0m8,-0.2h0m0.1,-5.7h0m-4.2,6.6h0m2,-12.3h0m-6,11.1h0m0.2,0.4h0m-0.3,-10.1h0m2.5,-2.3h0m-4.7,6.8h0m1.4,4.2h0m3.4,2.1h0m-4.9,-6h0m10.5,4.5h0m-10.1,-3.9h0m9.3,-5.9h0m-0.8,-0.7h0m2,2.7h0m-5.3,-3.8h0m5.1,5.6h0m-6,7.7h0m-3.7,-3.8h0m0.4,1.4h0m9.4,-5.3h0m-10.6,2.1h0m10.4,-0.8h0m-3.1,-6.6h0m17.5,1.6h0m-3.4,8.1h0m9.8,-6.6h0m-10.9,1.9h0m-0.2,-0.3h0m4,6.8h0m-3.1,-9.4h0m7.6,8.9h0m-1.9,1h0m-4.3,-1.6h0m2.2,1.3h0m3.7,-10h0m1.5,0.4h0m2.8,4h0m-12.4,2.3h0m0,-0.3h0m9.3,2.1h0m-9.5,-5.4h0m2.3,-3.3h0m-1.8,1.6h0m8.9,-1.2h0m3.2,3.6h0m20.1,-0.4h0m-5.9,-3.4h0m-1,9.3h0m7,-6.4h0m-7.1,-2.5h0m-4.1,0.9h0m8.1,8h0m-0.6,-9.8h0m-3.4,0.9h0m3,-0.9h0m1,0.2h0m3.5,4.9h0m-8.6,4.3h0m7.2,-7.4h0m-11.8,1.6h0m12.1,3.5h0m-11.9,-4.5h0m12.7,1.7h0m0,1h0m-3.1,-5h0m-8.4,8.6h0m-0.6,-0.6h0m-1,-4.2h0m4.1,5.1h0m16.8,-3.8h0m2.2,4.3h0m1.6,-9.5h0m1.6,9.5h0m-4.2,-0.3h0m-1.8,-6.1h0m13.9,0.2h0m-12.9,-2h0m13.2,3.6h0m-12.1,-4.4h0m9.6,7.8h0m-1.3,0.7h0m-7,0.6h0m-3.4,-6.3h0m0.6,3h0m11.3,-4.6h0m-5.2,7.9h0m6.8,-6.8h0m-13.6,0.5h0m0.6,3.2h0m0.2,1h0m-0.7,-4.9h0m10.9,6.3h0m-10.9,-5.7h0m7.9,6.5h0m5.3,-7.4h0m-7.8,7.3h0m4.2,-8.7h0m13.2,0.3h0m-2.9,3.8h0m3.1,3.4h0m6.9,1.5h0m-8.2,-2.6h0m10.7,2h0m-13.3,-5.4h0m13.6,-1.4h0m-1.1,7.2h0m-12.4,-6.2h0m5.4,5.6h0m-3.7,-2.9h0m9.9,-5.1h0m-11.4,3.5h0m13.6,3.2h0m-1.7,2h0m-5.2,-0.5h0m6.9,-2.3h0m-1.6,2.7h0m2.1,-5.2h0m-0.1,0.2h0m-10.8,3.4h0m-3.4,-5.1h0m0.1,0.8h0m1.5,-1.8h0m11.9,6.6h0m-11.8,-2.4h0m12.6,-2.7h0m6.8,2h0m1.4,-3.4h0m13.9,3.5h0m-14.2,-1.8h0m14.1,0.9h0m-14.7,0h0m9.4,-4.4h0m2.3,0.7h0m-8,-0.6h0m0.2,-0.1h0m4.2,-0.1h0m-5.7,8.7h0m11.1,-6.3h0m0.5,0.7h0m-2.4,-2.5h0m-9.1,-0.2h0m10.2,1.3h0m-4.8,7h0m-6.1,-7.8h0m-2.3,4.2h0m14.8,1.1h0m0.4,-0.4h0m-3.2,1.6h0m-4.6,1.5h0m5.3,-7.7h0m-8.5,7.6h0m0.6,0.3h0m7.5,-1.6h0m2.5,-3.7h0m-6,-3.7h0m2.5,0.2h0m-1.1,7.8h0m20.4,0.5h0m0.3,-0.2h0m3.4,-4h0m-13.1,4.4h0m-0.6,-7.2h0m0.5,-0.6h0m12.8,5.4h0m-0.3,-3.5h0m-13.1,1h0m10.1,5h0m3.7,-2.8h0m-13.7,-2.4h0m13.9,1.5h0m-13.9,-1.5h0m0.9,5.2h0m-1.7,-3.1h0m11.4,2.4h0m-9.2,-7.5h0m-1.7,7.5h0m-0.4,-2.2h0m11.5,-5.1h0m-4.2,9.5h0m2.6,-1h0m-0.5,0.2h0" stroke="#6c91d0" stroke-opacity="0.62"/>
<path d="M56.7,157.5h0m0.4,12.6h0m-0.7,-2.9h0m0.2,-3.4h0m-0.8,-14.5h0m0.3,17.7h0m0.9,-2.7h0m-0.2,0.2h0m-0.8,-14.1h0m0.6,18.5h0m-0.3,-2.2h0m-0.1,-14.1h0m-0.2,3.7h0m0.6,-11.2h0m0.4,-3.8h0m-0.2,12.5h0m0.2,-2.2h0m-1.2,14.9h0m0.5,4.8h0m0.4,-14h0m0,8.9h0m-0.5,-18h0m0.4,13.9h0m-0.7,-15.1h0m0.5,-2.7h0m0.1,11.3h0m-0.3,13.2h0m0.6,-25.3h0m-0.2,34.2h0m0,-0.3h0m-0.5,-28.2h0m0.1,0.5h0m-0.2,0.7h0m0.5,20.6h0m0.3,-28.5h0m0,22.1h0m-0.7,-23.3h0m0.8,4.7h0m-0.8,6.3h0m0.7,23.7h0m0.2,-3.6h0m-0.1,-13.9h0m-1,-8.8h0m0.1,-4.4h0m0,7.5h0m-0.1,-0.9h0m-0.6,4.9h0m-0.6,17h0m-0.8,-3.4h0m0.9,-19.6h0m0.5,21.5h0m-1.2,4.6h0m0.7,-9.1h0m-0.6,-16.9h0m0.8,19.1h0m-0.8,-19h0m0.6,7.6h0m-0.3,15.7h0m0.3,-21h0m0.2,16.9h0" stroke="#f3766e" stroke-opacity="0.8"/>
</g>
<g fill-opacity="0.45" stroke-opacity="0.8" stroke-width="0.5">
<circle cx="54.7" cy="206.8" r="0.95" fill="#f3766e" stroke="#f3766e"/><circle cx="54.7" cy="212.4" r="0.95" fill="#f3766e" stroke="#f3766e"/><circle cx="54.6" cy="215.6" r="0.95" fill="#f3766e" stroke="#f3766e"/><circle cx="54.7" cy="220.2" r="0.95" fill="#f3766e" stroke="#f3766e"/><circle cx="55.1" cy="203.0" r="0.95" fill="#f3766e" stroke="#f3766e"/><circle cx="58.2" cy="181.4" r="0.95" fill="#f3766e" stroke="#f3766e"/><circle cx="59.0" cy="179.2" r="0.95" fill="#f3766e" stroke="#f3766e"/>
<circle cx="71.6" cy="86.4" r="0.95" fill="#6c91d0" stroke="#6c91d0"/><circle cx="54.8" cy="192.3" r="0.95" fill="#6c91d0" stroke="#6c91d0"/><circle cx="55.0" cy="181.0" r="0.95" fill="#6c91d0" stroke="#6c91d0"/><circle cx="54.3" cy="184.5" r="0.95" fill="#6c91d0" stroke="#6c91d0"/>
</g>
<path d="M42.2,104.6H320.3" stroke="#5a4cd2" stroke-opacity="0.75" stroke-width="0.7" stroke-dasharray="2.65 2.02" fill="none"/>
<path d="M42.2,139.4H320.3" stroke="#de2a20" stroke-opacity="0.85" stroke-width="0.7" stroke-dasharray="2.65 2.02" fill="none"/>
<g stroke="#9a9a9a" stroke-width="1.3" fill="none">
<path d="M42.20,29.0V294.45"/>
<path d="M41.65,293.90H320.3"/>
</g>
<g stroke="#8a8a8a" stroke-width="0.7" fill="none">
<path d="M41.7,41.4h-1.6"/>
<path d="M41.7,105.4h-1.6"/>
<path d="M41.7,169.4h-1.6"/>
<path d="M41.7,233.4h-1.6"/>
<path d="M54.5,294.4v1.6"/>
<path d="M136.2,294.4v1.6"/>
<path d="M217.9,294.4v1.6"/>
<path d="M299.6,294.4v1.6"/>
</g>
<g font-size="13.4" fill="#434343">
<text x="39.2" y="46.2" text-anchor="end">100</text>
<text x="39.2" y="110.2" text-anchor="end">80</text>
<text x="39.2" y="174.2" text-anchor="end">60</text>
<text x="39.2" y="238.2" text-anchor="end">40</text>
<text x="54.5" y="306.4" text-anchor="middle">0</text>
<text x="136.2" y="306.4" text-anchor="middle">10000</text>
<text x="217.9" y="306.4" text-anchor="middle">20000</text>
<text x="299.6" y="306.4" text-anchor="middle">30000</text>
</g>
<g font-size="16.15" fill="#000">
<text x="181.4" y="321.6" text-anchor="middle">Number of Cs in CG context</text>
<text transform="translate(12.9,161.5) rotate(-90)" text-anchor="middle" font-size="16">CG methylation (%)</text>
</g>
<text transform="translate(0.6,15.5) scale(0.945,1)" font-size="22.8" fill="#000">A</text>
<g font-size="16" fill="#000">
<text x="252.9" y="202.3">Female</text>
<text x="252.9" y="217.1">Male</text>
</g>
<circle cx="245.1" cy="195.9" r="2.0" fill="#f6b7b3" stroke="#f09c97" stroke-width="0.8"/>
<circle cx="245.1" cy="210.6" r="2.0" fill="#b3c6ea" stroke="#8fadde" stroke-width="0.8"/>
<g fill="#f0716b" fill-opacity="0.88"><circle cx="396.0" cy="74.3" r="2.35"/><circle cx="396.8" cy="129.2" r="2.35"/><circle cx="399.8" cy="187.6" r="2.35"/><circle cx="401.5" cy="204.1" r="2.35"/><circle cx="404.0" cy="217.2" r="2.35"/><circle cx="408.5" cy="225.4" r="2.35"/><circle cx="413.1" cy="233.9" r="2.35"/><circle cx="422.1" cy="241.1" r="2.35"/><circle cx="431.2" cy="243.8" r="2.35"/><circle cx="440.4" cy="249.9" r="2.35"/><circle cx="449.4" cy="253.9" r="2.35"/><circle cx="467.5" cy="259.7" r="2.35"/><circle cx="485.5" cy="261.2" r="2.35"/><circle cx="508.2" cy="263.0" r="2.35"/><circle cx="530.7" cy="264.2" r="2.35"/><circle cx="553.3" cy="264.7" r="2.35"/><circle cx="575.9" cy="267.1" r="2.35"/><circle cx="598.8" cy="266.5" r="2.35"/><circle cx="621.4" cy="267.1" r="2.35"/><circle cx="644.0" cy="268.1" r="2.35"/><circle cx="666.8" cy="268.9" r="2.35"/></g>
<g fill="#6590d2" fill-opacity="0.88"><circle cx="396.0" cy="102.7" r="2.35"/><circle cx="396.8" cy="157.2" r="2.35"/><circle cx="399.8" cy="193.0" r="2.35"/><circle cx="401.5" cy="208.9" r="2.35"/><circle cx="404.0" cy="224.4" r="2.35"/><circle cx="408.6" cy="235.1" r="2.35"/><circle cx="413.1" cy="239.5" r="2.35"/><circle cx="422.1" cy="246.7" r="2.35"/><circle cx="431.2" cy="251.9" r="2.35"/><circle cx="440.4" cy="255.3" r="2.35"/><circle cx="449.4" cy="257.5" r="2.35"/><circle cx="467.5" cy="260.7" r="2.35"/><circle cx="485.6" cy="260.9" r="2.35"/><circle cx="508.2" cy="264.8" r="2.35"/><circle cx="530.7" cy="267.1" r="2.35"/><circle cx="553.3" cy="268.4" r="2.35"/><circle cx="575.9" cy="268.6" r="2.35"/><circle cx="598.8" cy="268.4" r="2.35"/><circle cx="621.4" cy="269.7" r="2.35"/><circle cx="644.0" cy="271.5" r="2.35"/><circle cx="666.8" cy="270.7" r="2.35"/></g>
<g fill="#40bf55" fill-opacity="0.88"><circle cx="395.7" cy="122.3" r="2.35"/><circle cx="395.8" cy="178.0" r="2.35"/><circle cx="396.8" cy="217.7" r="2.35"/><circle cx="397.8" cy="223.2" r="2.35"/><circle cx="398.9" cy="233.7" r="2.35"/><circle cx="401.2" cy="246.5" r="2.35"/><circle cx="402.9" cy="246.8" r="2.35"/><circle cx="406.6" cy="256.9" r="2.35"/><circle cx="410.5" cy="257.6" r="2.35"/><circle cx="414.8" cy="261.2" r="2.35"/><circle cx="418.5" cy="262.2" r="2.35"/><circle cx="426.4" cy="265.1" r="2.35"/><circle cx="434.2" cy="266.5" r="2.35"/><circle cx="443.9" cy="268.6" r="2.35"/><circle cx="454.1" cy="271.4" r="2.35"/><circle cx="463.8" cy="271.8" r="2.35"/><circle cx="473.7" cy="272.6" r="2.35"/><circle cx="483.4" cy="271.9" r="2.35"/><circle cx="493.3" cy="272.6" r="2.35"/><circle cx="503.0" cy="272.6" r="2.35"/><circle cx="512.9" cy="273.0" r="2.35"/></g>
<g fill="#f59e1f" fill-opacity="0.88"><circle cx="395.7" cy="114.3" r="2.35"/><circle cx="396.0" cy="159.2" r="2.35"/><circle cx="396.8" cy="204.9" r="2.35"/><circle cx="397.8" cy="215.4" r="2.35"/><circle cx="398.9" cy="230.9" r="2.35"/><circle cx="400.7" cy="232.7" r="2.35"/><circle cx="402.8" cy="237.9" r="2.35"/><circle cx="406.7" cy="247.9" r="2.35"/><circle cx="410.9" cy="253.3" r="2.35"/><circle cx="414.8" cy="257.8" r="2.35"/><circle cx="418.5" cy="258.9" r="2.35"/><circle cx="426.4" cy="262.9" r="2.35"/><circle cx="434.2" cy="262.9" r="2.35"/><circle cx="443.9" cy="266.3" r="2.35"/><circle cx="453.8" cy="266.6" r="2.35"/><circle cx="463.5" cy="267.9" r="2.35"/><circle cx="473.4" cy="269.8" r="2.35"/><circle cx="483.1" cy="269.5" r="2.35"/><circle cx="492.9" cy="270.0" r="2.35"/><circle cx="502.6" cy="270.9" r="2.35"/><circle cx="512.3" cy="271.9" r="2.35"/></g>
<path d="M395.6,131.0L395.8,160.0 396.2,190.0 396.9,212.0 397.6,225.0 398.6,233.0 400.2,240.0 402.0,244.6 405.6,251.5 409.0,255.6 412.6,258.6 417.0,261.2 421.5,263.0 427.0,264.8 433.8,266.5 443.0,268.2 453.2,269.5 463.0,270.4 474.4,271.2 493.8,272.1 515.0,272.6 560.0,273.6 610.0,274.7 666.8,276.0" fill="none" stroke="#1e1e1e" stroke-width="0.85" stroke-linejoin="round"/>
<g stroke="#858585" stroke-width="1.1" fill="none">
<path d="M381.75,29.5V294.85"/>
<path d="M381.30,294.40H679.8"/>
</g>
<g stroke="#8a8a8a" stroke-width="0.7" fill="none">
<path d="M381.3,41.4h-1.6"/>
<path d="M381.3,89.6h-1.6"/>
<path d="M381.3,137.8h-1.6"/>
<path d="M381.3,186.0h-1.6"/>
<path d="M381.3,234.2h-1.6"/>
<path d="M381.3,282.4h-1.6"/>
<path d="M394.8,294.8v1.6"/>
<path d="M485.5,294.8v1.6"/>
<path d="M576.2,294.8v1.6"/>
<path d="M666.9,294.8v1.6"/>
</g>
<g font-size="13.4" fill="#434343">
<text x="379.0" y="46.4" text-anchor="end">25</text>
<text x="379.0" y="94.6" text-anchor="end">20</text>
<text x="379.0" y="142.8" text-anchor="end">15</text>
<text x="379.0" y="191.0" text-anchor="end">10</text>
<text x="379.0" y="239.2" text-anchor="end">5</text>
<text x="379.0" y="287.4" text-anchor="end">0</text>
<text x="395.2" y="307.0" text-anchor="middle">0</text>
<text x="485.9" y="307.0" text-anchor="middle">10000</text>
<text x="576.6" y="307.0" text-anchor="middle">20000</text>
<text x="667.3" y="307.0" text-anchor="middle">30000</text>
</g>
<g font-size="16" fill="#000">
<text x="531.2" y="321.6" text-anchor="middle" font-size="16.15">Number of Cs in CG context</text>
<text transform="translate(358.6,161.5) rotate(-90)" text-anchor="middle" font-size="16.1">Margin of error (± p.p)</text>
</g>
<text transform="translate(348.1,15.5) scale(0.945,1)" font-size="22.8" fill="#000">B</text>
<g font-size="16" fill="#000">
<text x="555.9" y="67.7">Female</text>
<text x="555.9" y="82.5">Male</text>
<text x="555.9" y="97.3">Female first CG</text>
<text x="555.9" y="112.0">Male first CG</text>
<text x="555.9" y="126.8">Model</text>
</g>
<path d="M544.2,62.3H551.6" stroke="#f0716b" stroke-opacity="0.45" stroke-width="0.9"/>
<circle cx="547.9" cy="62.3" r="1.95" fill="#f0716b" fill-opacity="0.9"/>
<path d="M544.2,77.1H551.6" stroke="#6590d2" stroke-opacity="0.45" stroke-width="0.9"/>
<circle cx="547.9" cy="77.1" r="1.95" fill="#6590d2" fill-opacity="0.9"/>
<path d="M544.2,91.9H551.6" stroke="#f59e1f" stroke-opacity="0.45" stroke-width="0.9"/>
<circle cx="547.9" cy="91.9" r="1.95" fill="#f59e1f" fill-opacity="0.9"/>
<path d="M544.2,106.6H551.6" stroke="#40bf55" stroke-opacity="0.45" stroke-width="0.9"/>
<circle cx="547.9" cy="106.6" r="1.95" fill="#40bf55" fill-opacity="0.9"/>
<path d="M544.7,121.4H551.4" stroke="#444" stroke-width="0.75"/>
</svg>
</body></html>
